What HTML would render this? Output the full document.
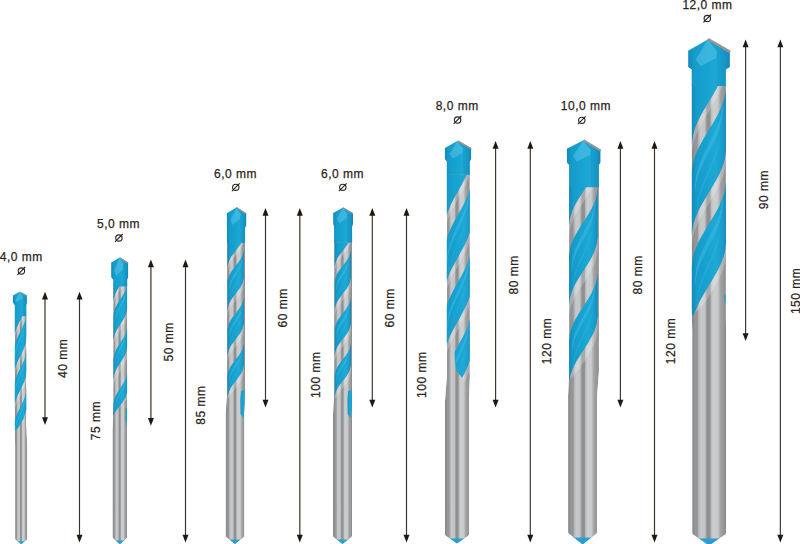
<!DOCTYPE html><html><head><meta charset="utf-8"><style>html,body{margin:0;padding:0;background:#fff;}svg{display:block;}text{font-family:"Liberation Sans",sans-serif;font-size:12px;fill:#2b2521;stroke:#2b2521;stroke-width:0.25px;letter-spacing:0.5px;}.phi{font-size:14px;letter-spacing:0;}</style></head><body>
<svg width="800" height="544" viewBox="0 0 800 544">
<defs>
<linearGradient id="steel" x1="0" y1="0" x2="1" y2="0"><stop offset="0" stop-color="#808284"/><stop offset="0.05" stop-color="#8c8e90"/><stop offset="0.12" stop-color="#96989a"/><stop offset="0.16" stop-color="#909294"/><stop offset="0.2" stop-color="#b3b4b6"/><stop offset="0.26" stop-color="#c7c8ca"/><stop offset="0.38" stop-color="#c4c5c7"/><stop offset="0.42" stop-color="#a3a4a6"/><stop offset="0.46" stop-color="#8e8f91"/><stop offset="0.53" stop-color="#909193"/><stop offset="0.57" stop-color="#b9babc"/><stop offset="0.62" stop-color="#cccdcf"/><stop offset="0.75" stop-color="#cacbcd"/><stop offset="0.8" stop-color="#b5b6b8"/><stop offset="0.85" stop-color="#9fa0a2"/><stop offset="0.93" stop-color="#97989a"/><stop offset="1" stop-color="#87888a"/></linearGradient>
<linearGradient id="steelF" x1="0" y1="0" x2="1" y2="0"><stop offset="0" stop-color="#808284"/><stop offset="0.05" stop-color="#8c8e90"/><stop offset="0.12" stop-color="#96989a"/><stop offset="0.16" stop-color="#909294"/><stop offset="0.2" stop-color="#b3b4b6"/><stop offset="0.26" stop-color="#c7c8ca"/><stop offset="0.38" stop-color="#c4c5c7"/><stop offset="0.42" stop-color="#a3a4a6"/><stop offset="0.46" stop-color="#8e8f91"/><stop offset="0.53" stop-color="#909193"/><stop offset="0.57" stop-color="#b9babc"/><stop offset="0.62" stop-color="#cccdcf"/><stop offset="0.75" stop-color="#cacbcd"/><stop offset="0.8" stop-color="#b5b6b8"/><stop offset="0.85" stop-color="#9fa0a2"/><stop offset="0.93" stop-color="#97989a"/><stop offset="1" stop-color="#87888a"/></linearGradient>
<linearGradient id="blueG" x1="0" y1="0" x2="1" y2="0"><stop offset="0" stop-color="#1289b8"/><stop offset="0.15" stop-color="#169cc9"/><stop offset="0.45" stop-color="#17a3d0"/><stop offset="0.7" stop-color="#1ea9d5"/><stop offset="0.9" stop-color="#179ccb"/><stop offset="1" stop-color="#118bbb"/></linearGradient>
<linearGradient id="tipG" x1="0" y1="0" x2="1" y2="0"><stop offset="0" stop-color="#1289b8"/><stop offset="0.15" stop-color="#169cc9"/><stop offset="0.45" stop-color="#17a3d0"/><stop offset="0.7" stop-color="#1ea9d5"/><stop offset="0.9" stop-color="#179ccb"/><stop offset="1" stop-color="#118bbb"/></linearGradient>
</defs>
<rect width="800" height="544" fill="#fff"/>
<clipPath id="body0"><polygon points="14.8,314 26.3,314 26.3,423 27.3,447 27.3,538.5 26.7,539.7 21.5,543.9 20.9,543.9 15.7,539.7 15.1,538.5 15.1,447 14.8,423"/></clipPath>
<clipPath id="fl0"><polygon points="11.8,316 29.3,316 29.3,410 26.3,410 23.43,419 20.55,424 17.68,428.5 14.8,431 11.8,431"/></clipPath>
<g clip-path="url(#body0)">
<polygon points="14.8,313 26.3,313 26.3,423 27.3,447 27.3,544.9 15.1,544.9 15.1,447 14.8,423" fill="url(#steel)"/>
<g clip-path="url(#fl0)">
<polygon points="27.06,299.9 26.62,301.36 26.5,302.81 26.3,304.27 26.02,305.73 25.67,307.19 25.25,308.64 24.76,310.1 24.22,311.56 23.63,313.01 23,314.47 22.33,315.93 21.63,317.39 20.91,318.84 20.19,320.3 19.47,321.76 18.75,323.21 18.05,324.67 17.38,326.13 16.75,327.59 16.16,329.04 15.62,330.5 15.13,331.96 14.71,333.41 14.36,334.87 14.08,336.33 13.88,337.79 13.76,339.24 13.32,340.7 13.32,344.76 13.76,343.3 13.88,341.85 14.08,340.39 14.36,338.93 14.71,337.47 15.13,336.02 15.62,334.56 16.16,333.1 16.75,331.65 17.38,330.19 18.05,328.73 18.75,327.27 19.47,325.82 20.19,324.36 20.91,322.9 21.63,321.45 22.33,319.99 23,318.53 23.63,317.07 24.22,315.62 24.76,314.16 25.25,312.7 25.67,311.25 26.02,309.79 26.3,308.33 26.5,306.87 26.62,305.42 27.06,303.96" fill="#ffffff" opacity="0.22"/>
<polygon points="27.06,336 26.62,337.46 26.5,338.91 26.3,340.37 26.02,341.83 25.67,343.29 25.25,344.74 24.76,346.2 24.22,347.66 23.63,349.11 23,350.57 22.33,352.03 21.63,353.49 20.91,354.94 20.19,356.4 19.47,357.86 18.75,359.31 18.05,360.77 17.38,362.23 16.75,363.69 16.16,365.14 15.62,366.6 15.13,368.06 14.71,369.51 14.36,370.97 14.08,372.43 13.88,373.89 13.76,375.34 13.32,376.8 13.32,381.07 13.76,379.61 13.88,378.16 14.08,376.7 14.36,375.24 14.71,373.78 15.13,372.33 15.62,370.87 16.16,369.41 16.75,367.96 17.38,366.5 18.05,365.04 18.75,363.58 19.47,362.13 20.19,360.67 20.91,359.21 21.63,357.76 22.33,356.3 23,354.84 23.63,353.38 24.22,351.93 24.76,350.47 25.25,349.01 25.67,347.56 26.02,346.1 26.3,344.64 26.5,343.18 26.62,341.73 27.06,340.27" fill="#ffffff" opacity="0.22"/>
<polygon points="27.06,369.8 26.62,371.26 26.5,372.71 26.3,374.17 26.02,375.63 25.67,377.09 25.25,378.54 24.76,380 24.22,381.46 23.63,382.91 23,384.37 22.33,385.83 21.63,387.29 20.91,388.74 20.19,390.2 19.47,391.66 18.75,393.11 18.05,394.57 17.38,396.03 16.75,397.49 16.16,398.94 15.62,400.4 15.13,401.86 14.71,403.31 14.36,404.77 14.08,406.23 13.88,407.69 13.76,409.14 13.32,410.6 13.32,416.65 13.76,415.2 13.88,413.74 14.08,412.28 14.36,410.83 14.71,409.37 15.13,407.91 15.62,406.45 16.16,405 16.75,403.54 17.38,402.08 18.05,400.63 18.75,399.17 19.47,397.71 20.19,396.25 20.91,394.8 21.63,393.34 22.33,391.88 23,390.43 23.63,388.97 24.22,387.51 24.76,386.06 25.25,384.6 25.67,383.14 26.02,381.68 26.3,380.23 26.5,378.77 26.62,377.31 27.06,375.86" fill="#ffffff" opacity="0.22"/>
<polygon points="27.06,410.1 26.62,411.56 26.5,413.01 26.3,414.47 26.02,415.93 25.67,417.39 25.25,418.84 24.76,420.3 24.22,421.76 23.63,423.21 23,424.67 22.33,426.13 21.63,427.59 20.91,429.04 20.19,430.5 19.47,431.96 18.75,433.41 18.05,434.87 17.38,436.33 16.75,437.79 16.16,439.24 15.62,440.7 15.13,442.16 14.71,443.61 14.36,445.07 14.08,446.53 13.88,447.99 13.76,449.44 13.32,450.9 13.32,456.95 13.76,455.5 13.88,454.04 14.08,452.58 14.36,451.13 14.71,449.67 15.13,448.21 15.62,446.75 16.16,445.3 16.75,443.84 17.38,442.38 18.05,440.93 18.75,439.47 19.47,438.01 20.19,436.56 20.91,435.1 21.63,433.64 22.33,432.18 23,430.73 23.63,429.27 24.22,427.81 24.76,426.36 25.25,424.9 25.67,423.44 26.02,421.98 26.3,420.53 26.5,419.07 26.62,417.61 27.06,416.16" fill="#ffffff" opacity="0.22"/>
<polygon points="27.06,275.6 26.62,277.06 26.5,278.51 26.3,279.97 26.02,281.43 25.67,282.89 25.25,284.34 24.76,285.8 24.22,287.26 23.63,288.71 23,290.17 22.33,291.63 21.63,293.09 20.91,294.54 20.19,296 19.47,297.46 18.75,298.91 18.05,300.37 17.38,301.83 16.75,303.29 16.16,304.74 15.62,306.2 15.13,307.66 14.71,309.11 14.36,310.57 14.08,312.03 13.88,313.49 13.76,314.94 13.32,316.4 13.32,340.7 13.76,339.24 13.88,337.79 14.08,336.33 14.36,334.87 14.71,333.41 15.13,331.96 15.62,330.5 16.16,329.04 16.75,327.59 17.38,326.13 18.05,324.67 18.75,323.21 19.47,321.76 20.19,320.3 20.91,318.84 21.63,317.39 22.33,315.93 23,314.47 23.63,313.01 24.22,311.56 24.76,310.1 25.25,308.64 25.67,307.19 26.02,305.73 26.3,304.27 26.5,302.81 26.62,301.36 27.06,299.9" fill="url(#blueG)"/>
<polygon points="27.06,311.5 26.62,312.96 26.5,314.41 26.3,315.87 26.02,317.33 25.67,318.79 25.25,320.24 24.76,321.7 24.22,323.16 23.63,324.61 23,326.07 22.33,327.53 21.63,328.99 20.91,330.44 20.19,331.9 19.47,333.36 18.75,334.81 18.05,336.27 17.38,337.73 16.75,339.19 16.16,340.64 15.62,342.1 15.13,343.56 14.71,345.01 14.36,346.47 14.08,347.93 13.88,349.39 13.76,350.84 13.32,352.3 13.32,376.8 13.76,375.34 13.88,373.89 14.08,372.43 14.36,370.97 14.71,369.51 15.13,368.06 15.62,366.6 16.16,365.14 16.75,363.69 17.38,362.23 18.05,360.77 18.75,359.31 19.47,357.86 20.19,356.4 20.91,354.94 21.63,353.49 22.33,352.03 23,350.57 23.63,349.11 24.22,347.66 24.76,346.2 25.25,344.74 25.67,343.29 26.02,341.83 26.3,340.37 26.5,338.91 26.62,337.46 27.06,336" fill="url(#blueG)"/>
<polygon points="25.77,317.91 25.33,319.29 25.24,320.68 25.08,322.06 24.85,323.45 24.57,324.83 24.24,326.22 23.85,327.6 23.42,328.98 22.94,330.37 22.44,331.75 21.9,333.14 21.34,334.52 20.77,335.91 20.19,337.29 19.61,338.67 19.04,340.06 18.48,341.44 17.94,342.83 17.44,344.21 16.96,345.6 16.53,346.98 16.14,348.36 15.81,349.75 15.53,351.13 15.3,352.52 15.14,353.9 15.05,355.29 14.61,356.67 14.61,360.1 15.05,358.72 15.14,357.33 15.3,355.95 15.53,354.56 15.81,353.18 16.14,351.79 16.53,350.41 16.96,349.03 17.44,347.64 17.94,346.26 18.48,344.87 19.04,343.49 19.61,342.1 20.19,340.72 20.77,339.34 21.34,337.95 21.9,336.57 22.44,335.18 22.94,333.8 23.42,332.41 23.85,331.03 24.24,329.65 24.57,328.26 24.85,326.88 25.08,325.49 25.24,324.11 25.33,322.72 25.77,321.34" fill="#46bde8" opacity="0.45"/>
<polygon points="25.12,327.71 24.69,329.09 24.61,330.48 24.46,331.86 24.27,333.25 24.02,334.63 23.73,336.02 23.39,337.4 23.01,338.78 22.6,340.17 22.16,341.55 21.69,342.94 21.2,344.32 20.7,345.71 20.19,347.09 19.68,348.47 19.18,349.86 18.69,351.24 18.22,352.63 17.78,354.01 17.37,355.4 16.99,356.78 16.65,358.16 16.36,359.55 16.11,360.93 15.92,362.32 15.77,363.7 15.69,365.09 15.26,366.47 15.26,368.43 15.69,367.05 15.77,365.66 15.92,364.28 16.11,362.89 16.36,361.51 16.65,360.12 16.99,358.74 17.37,357.36 17.78,355.97 18.22,354.59 18.69,353.2 19.18,351.82 19.68,350.43 20.19,349.05 20.7,347.67 21.2,346.28 21.69,344.9 22.16,343.51 22.6,342.13 23.01,340.74 23.39,339.36 23.73,337.98 24.02,336.59 24.27,335.21 24.46,333.82 24.61,332.44 24.69,331.05 25.12,329.67" fill="#3ab5e2" opacity="0.35"/>
<polygon points="27.06,348.2 26.62,349.66 26.5,351.11 26.3,352.57 26.02,354.03 25.67,355.49 25.25,356.94 24.76,358.4 24.22,359.86 23.63,361.31 23,362.77 22.33,364.23 21.63,365.69 20.91,367.14 20.19,368.6 19.47,370.06 18.75,371.51 18.05,372.97 17.38,374.43 16.75,375.89 16.16,377.34 15.62,378.8 15.13,380.26 14.71,381.71 14.36,383.17 14.08,384.63 13.88,386.09 13.76,387.54 13.32,389 13.32,410.6 13.76,409.14 13.88,407.69 14.08,406.23 14.36,404.77 14.71,403.31 15.13,401.86 15.62,400.4 16.16,398.94 16.75,397.49 17.38,396.03 18.05,394.57 18.75,393.11 19.47,391.66 20.19,390.2 20.91,388.74 21.63,387.29 22.33,385.83 23,384.37 23.63,382.91 24.22,381.46 24.76,380 25.25,378.54 25.67,377.09 26.02,375.63 26.3,374.17 26.5,372.71 26.62,371.26 27.06,369.8" fill="url(#blueG)"/>
<polygon points="25.77,353.97 25.33,355.36 25.24,356.74 25.08,358.12 24.85,359.51 24.57,360.89 24.24,362.28 23.85,363.66 23.42,365.05 22.94,366.43 22.44,367.81 21.9,369.2 21.34,370.58 20.77,371.97 20.19,373.35 19.61,374.74 19.04,376.12 18.48,377.5 17.94,378.89 17.44,380.27 16.96,381.66 16.53,383.04 16.14,384.43 15.81,385.81 15.53,387.19 15.3,388.58 15.14,389.96 15.05,391.35 14.61,392.73 14.61,395.76 15.05,394.37 15.14,392.99 15.3,391.6 15.53,390.22 15.81,388.83 16.14,387.45 16.53,386.07 16.96,384.68 17.44,383.3 17.94,381.91 18.48,380.53 19.04,379.14 19.61,377.76 20.19,376.38 20.77,374.99 21.34,373.61 21.9,372.22 22.44,370.84 22.94,369.45 23.42,368.07 23.85,366.69 24.24,365.3 24.57,363.92 24.85,362.53 25.08,361.15 25.24,359.76 25.33,358.38 25.77,357" fill="#46bde8" opacity="0.45"/>
<polygon points="25.12,362.61 24.69,364 24.61,365.38 24.46,366.76 24.27,368.15 24.02,369.53 23.73,370.92 23.39,372.3 23.01,373.69 22.6,375.07 22.16,376.45 21.69,377.84 21.2,379.22 20.7,380.61 20.19,381.99 19.68,383.38 19.18,384.76 18.69,386.14 18.22,387.53 17.78,388.91 17.37,390.3 16.99,391.68 16.65,393.07 16.36,394.45 16.11,395.83 15.92,397.22 15.77,398.6 15.69,399.99 15.26,401.37 15.26,403.1 15.69,401.72 15.77,400.33 15.92,398.95 16.11,397.56 16.36,396.18 16.65,394.79 16.99,393.41 17.37,392.03 17.78,390.64 18.22,389.26 18.69,387.87 19.18,386.49 19.68,385.1 20.19,383.72 20.7,382.34 21.2,380.95 21.69,379.57 22.16,378.18 22.6,376.8 23.01,375.41 23.39,374.03 23.73,372.65 24.02,371.26 24.27,369.88 24.46,368.49 24.61,367.11 24.69,365.72 25.12,364.34" fill="#3ab5e2" opacity="0.35"/>
<polygon points="27.06,387.1 26.62,388.56 26.5,390.01 26.3,391.47 26.02,392.93 25.67,394.39 25.25,395.84 24.76,397.3 24.22,398.76 23.63,400.21 23,401.67 22.33,403.13 21.63,404.59 20.91,406.04 20.19,407.5 19.47,408.96 18.75,410.41 18.05,411.87 17.38,413.33 16.75,414.79 16.16,416.24 15.62,417.7 15.13,419.16 14.71,420.61 14.36,422.07 14.08,423.53 13.88,424.99 13.76,426.44 13.32,427.9 13.32,450.9 13.76,449.44 13.88,447.99 14.08,446.53 14.36,445.07 14.71,443.61 15.13,442.16 15.62,440.7 16.16,439.24 16.75,437.79 17.38,436.33 18.05,434.87 18.75,433.41 19.47,431.96 20.19,430.5 20.91,429.04 21.63,427.59 22.33,426.13 23,424.67 23.63,423.21 24.22,421.76 24.76,420.3 25.25,418.84 25.67,417.39 26.02,415.93 26.3,414.47 26.5,413.01 26.62,411.56 27.06,410.1" fill="url(#blueG)"/>
<polygon points="25.77,393.18 25.33,394.56 25.24,395.95 25.08,397.33 24.85,398.72 24.57,400.1 24.24,401.49 23.85,402.87 23.42,404.25 22.94,405.64 22.44,407.02 21.9,408.41 21.34,409.79 20.77,411.18 20.19,412.56 19.61,413.94 19.04,415.33 18.48,416.71 17.94,418.1 17.44,419.48 16.96,420.87 16.53,422.25 16.14,423.63 15.81,425.02 15.53,426.4 15.3,427.79 15.14,429.17 15.05,430.56 14.61,431.94 14.61,435.16 15.05,433.78 15.14,432.39 15.3,431.01 15.53,429.62 15.81,428.24 16.14,426.85 16.53,425.47 16.96,424.09 17.44,422.7 17.94,421.32 18.48,419.93 19.04,418.55 19.61,417.16 20.19,415.78 20.77,414.4 21.34,413.01 21.9,411.63 22.44,410.24 22.94,408.86 23.42,407.47 23.85,406.09 24.24,404.71 24.57,403.32 24.85,401.94 25.08,400.55 25.24,399.17 25.33,397.78 25.77,396.4" fill="#46bde8" opacity="0.45"/>
<polygon points="25.12,402.38 24.69,403.76 24.61,405.15 24.46,406.53 24.27,407.92 24.02,409.3 23.73,410.69 23.39,412.07 23.01,413.45 22.6,414.84 22.16,416.22 21.69,417.61 21.2,418.99 20.7,420.38 20.19,421.76 19.68,423.14 19.18,424.53 18.69,425.91 18.22,427.3 17.78,428.68 17.37,430.07 16.99,431.45 16.65,432.83 16.36,434.22 16.11,435.6 15.92,436.99 15.77,438.37 15.69,439.76 15.26,441.14 15.26,442.98 15.69,441.6 15.77,440.21 15.92,438.83 16.11,437.44 16.36,436.06 16.65,434.67 16.99,433.29 17.37,431.91 17.78,430.52 18.22,429.14 18.69,427.75 19.18,426.37 19.68,424.98 20.19,423.6 20.7,422.22 21.2,420.83 21.69,419.45 22.16,418.06 22.6,416.68 23.01,415.29 23.39,413.91 23.73,412.53 24.02,411.14 24.27,409.76 24.46,408.37 24.61,406.99 24.69,405.6 25.12,404.22" fill="#3ab5e2" opacity="0.35"/>
</g>
<rect x="15.1" y="541.3" width="12.2" height="3.6" fill="#2a9fd2"/>
</g>
<polygon points="19.7,291.7 26.9,295.3 26.9,302.7 26.3,305.2 26.3,316.3 14.8,316.3 14.8,305.2 13,302.7 13,295.6" fill="url(#tipG)"/>
<polygon points="19.7,291.7 26.9,295.3 26.9,302.7 26.3,305.2 26.3,316 22.48,316 22.48,296.31" fill="#0b6f99" opacity="0.12"/>
<polygon points="19.42,292.3 22.48,295.96 22.2,298.8 17.17,302.34 15.5,299.5" fill="#5cc8ee" opacity="0.5"/>
<line x1="20" y1="292.3" x2="26.5" y2="295.8" stroke="#9a9592" stroke-width="1.2" stroke-linecap="round"/>
<clipPath id="body1"><polygon points="113.2,284.1 127.2,284.1 127.2,407 127.1,431 127.1,537.1 126.5,538.3 120.1,543.9 119.5,543.9 113.1,538.3 112.5,537.1 112.5,431 113.2,407"/></clipPath>
<clipPath id="fl1"><polygon points="110.2,286.1 130.2,286.1 130.2,400 127.2,400 123.7,402 120.2,405 116.7,410 113.2,415 110.2,415"/></clipPath>
<g clip-path="url(#body1)">
<polygon points="113.2,283.1 127.2,283.1 127.2,407 127.1,431 127.1,544.9 112.5,544.9 112.5,431 113.2,407" fill="url(#steel)"/>
<g clip-path="url(#fl1)">
<polygon points="127.39,268.95 126.95,270.09 126.82,271.23 126.62,272.37 126.33,273.51 125.97,274.65 125.54,275.79 125.05,276.92 124.49,278.06 123.89,279.2 123.24,280.34 122.55,281.48 121.84,282.62 121.1,283.76 120.36,284.9 119.62,286.04 118.88,287.18 118.17,288.32 117.48,289.46 116.83,290.6 116.23,291.74 115.67,292.88 115.18,294.01 114.75,295.15 114.39,296.29 114.1,297.43 113.9,298.57 113.77,299.71 113.33,300.85 113.33,305.82 113.77,304.68 113.9,303.54 114.1,302.4 114.39,301.26 114.75,300.12 115.18,298.98 115.67,297.85 116.23,296.71 116.83,295.57 117.48,294.43 118.17,293.29 118.88,292.15 119.62,291.01 120.36,289.87 121.1,288.73 121.84,287.59 122.55,286.45 123.24,285.31 123.89,284.17 124.49,283.03 125.05,281.89 125.54,280.76 125.97,279.62 126.33,278.48 126.62,277.34 126.82,276.2 126.95,275.06 127.39,273.92" fill="#ffffff" opacity="0.22"/>
<polygon points="127.39,308.15 126.95,309.29 126.82,310.43 126.62,311.57 126.33,312.71 125.97,313.85 125.54,314.99 125.05,316.12 124.49,317.26 123.89,318.4 123.24,319.54 122.55,320.68 121.84,321.82 121.1,322.96 120.36,324.1 119.62,325.24 118.88,326.38 118.17,327.52 117.48,328.66 116.83,329.8 116.23,330.94 115.67,332.08 115.18,333.21 114.75,334.35 114.39,335.49 114.1,336.63 113.9,337.77 113.77,338.91 113.33,340.05 113.33,346.56 113.77,345.42 113.9,344.28 114.1,343.14 114.39,342 114.75,340.86 115.18,339.72 115.67,338.59 116.23,337.45 116.83,336.31 117.48,335.17 118.17,334.03 118.88,332.89 119.62,331.75 120.36,330.61 121.1,329.47 121.84,328.33 122.55,327.19 123.24,326.05 123.89,324.91 124.49,323.77 125.05,322.63 125.54,321.5 125.97,320.36 126.33,319.22 126.62,318.08 126.82,316.94 126.95,315.8 127.39,314.66" fill="#ffffff" opacity="0.22"/>
<polygon points="127.39,346.75 126.95,347.89 126.82,349.03 126.62,350.17 126.33,351.31 125.97,352.45 125.54,353.59 125.05,354.72 124.49,355.86 123.89,357 123.24,358.14 122.55,359.28 121.84,360.42 121.1,361.56 120.36,362.7 119.62,363.84 118.88,364.98 118.17,366.12 117.48,367.26 116.83,368.4 116.23,369.54 115.67,370.68 115.18,371.81 114.75,372.95 114.39,374.09 114.1,375.23 113.9,376.37 113.77,377.51 113.33,378.65 113.33,387.5 113.77,386.37 113.9,385.23 114.1,384.09 114.39,382.95 114.75,381.81 115.18,380.67 115.67,379.53 116.23,378.39 116.83,377.25 117.48,376.11 118.17,374.97 118.88,373.83 119.62,372.69 120.36,371.56 121.1,370.42 121.84,369.28 122.55,368.14 123.24,367 123.89,365.86 124.49,364.72 125.05,363.58 125.54,362.44 125.97,361.3 126.33,360.16 126.62,359.02 126.82,357.88 126.95,356.74 127.39,355.61" fill="#ffffff" opacity="0.22"/>
<polygon points="127.39,390.05 126.95,391.19 126.82,392.33 126.62,393.47 126.33,394.61 125.97,395.75 125.54,396.89 125.05,398.02 124.49,399.16 123.89,400.3 123.24,401.44 122.55,402.58 121.84,403.72 121.1,404.86 120.36,406 119.62,407.14 118.88,408.28 118.17,409.42 117.48,410.56 116.83,411.7 116.23,412.84 115.67,413.98 115.18,415.11 114.75,416.25 114.39,417.39 114.1,418.53 113.9,419.67 113.77,420.81 113.33,421.95 113.33,430.81 113.77,429.67 113.9,428.53 114.1,427.39 114.39,426.25 114.75,425.11 115.18,423.97 115.67,422.83 116.23,421.69 116.83,420.55 117.48,419.41 118.17,418.27 118.88,417.13 119.62,415.99 120.36,414.86 121.1,413.72 121.84,412.58 122.55,411.44 123.24,410.3 123.89,409.16 124.49,408.02 125.05,406.88 125.54,405.74 125.97,404.6 126.33,403.46 126.62,402.32 126.82,401.18 126.95,400.04 127.39,398.91" fill="#ffffff" opacity="0.22"/>
<polygon points="127.39,241.05 126.95,242.19 126.82,243.33 126.62,244.47 126.33,245.61 125.97,246.75 125.54,247.89 125.05,249.03 124.49,250.16 123.89,251.3 123.24,252.44 122.55,253.58 121.84,254.72 121.1,255.86 120.36,257 119.62,258.14 118.88,259.28 118.17,260.42 117.48,261.56 116.83,262.7 116.23,263.84 115.67,264.98 115.18,266.11 114.75,267.25 114.39,268.39 114.1,269.53 113.9,270.67 113.77,271.81 113.33,272.95 113.33,300.85 113.77,299.71 113.9,298.57 114.1,297.43 114.39,296.29 114.75,295.15 115.18,294.01 115.67,292.88 116.23,291.74 116.83,290.6 117.48,289.46 118.17,288.32 118.88,287.18 119.62,286.04 120.36,284.9 121.1,283.76 121.84,282.62 122.55,281.48 123.24,280.34 123.89,279.2 124.49,278.06 125.05,276.92 125.54,275.79 125.97,274.65 126.33,273.51 126.62,272.37 126.82,271.23 126.95,270.09 127.39,268.95" fill="url(#blueG)"/>
<polygon points="127.39,283.15 126.95,284.29 126.82,285.43 126.62,286.57 126.33,287.71 125.97,288.85 125.54,289.99 125.05,291.12 124.49,292.26 123.89,293.4 123.24,294.54 122.55,295.68 121.84,296.82 121.1,297.96 120.36,299.1 119.62,300.24 118.88,301.38 118.17,302.52 117.48,303.66 116.83,304.8 116.23,305.94 115.67,307.08 115.18,308.21 114.75,309.35 114.39,310.49 114.1,311.63 113.9,312.77 113.77,313.91 113.33,315.05 113.33,340.05 113.77,338.91 113.9,337.77 114.1,336.63 114.39,335.49 114.75,334.35 115.18,333.21 115.67,332.08 116.23,330.94 116.83,329.8 117.48,328.66 118.17,327.52 118.88,326.38 119.62,325.24 120.36,324.1 121.1,322.96 121.84,321.82 122.55,320.68 123.24,319.54 123.89,318.4 124.49,317.26 125.05,316.12 125.54,314.99 125.97,313.85 126.33,312.71 126.62,311.57 126.82,310.43 126.95,309.29 127.39,308.15" fill="url(#blueG)"/>
<polygon points="126.06,289.45 125.63,290.53 125.53,291.61 125.37,292.69 125.14,293.78 124.85,294.86 124.51,295.94 124.11,297.02 123.67,298.11 123.18,299.19 122.66,300.27 122.11,301.35 121.54,302.44 120.95,303.52 120.36,304.6 119.77,305.68 119.18,306.76 118.61,307.85 118.06,308.93 117.54,310.01 117.05,311.09 116.61,312.18 116.21,313.26 115.87,314.34 115.58,315.42 115.35,316.51 115.19,317.59 115.09,318.67 114.66,319.75 114.66,323.25 115.09,322.17 115.19,321.09 115.35,320.01 115.58,318.92 115.87,317.84 116.21,316.76 116.61,315.68 117.05,314.59 117.54,313.51 118.06,312.43 118.61,311.35 119.18,310.26 119.77,309.18 120.36,308.1 120.95,307.02 121.54,305.94 122.11,304.85 122.66,303.77 123.18,302.69 123.67,301.61 124.11,300.52 124.51,299.44 124.85,298.36 125.14,297.28 125.37,296.19 125.53,295.11 125.63,294.03 126.06,292.95" fill="#46bde8" opacity="0.45"/>
<polygon points="125.4,299.45 124.97,300.53 124.88,301.61 124.74,302.69 124.54,303.78 124.29,304.86 123.99,305.94 123.64,307.02 123.25,308.11 122.83,309.19 122.37,310.27 121.89,311.35 121.39,312.44 120.88,313.52 120.36,314.6 119.84,315.68 119.33,316.76 118.83,317.85 118.35,318.93 117.89,320.01 117.47,321.09 117.08,322.18 116.73,323.26 116.43,324.34 116.18,325.42 115.98,326.51 115.84,327.59 115.75,328.67 115.32,329.75 115.32,331.75 115.75,330.67 115.84,329.59 115.98,328.51 116.18,327.42 116.43,326.34 116.73,325.26 117.08,324.18 117.47,323.09 117.89,322.01 118.35,320.93 118.83,319.85 119.33,318.76 119.84,317.68 120.36,316.6 120.88,315.52 121.39,314.44 121.89,313.35 122.37,312.27 122.83,311.19 123.25,310.11 123.64,309.02 123.99,307.94 124.29,306.86 124.54,305.78 124.74,304.69 124.88,303.61 124.97,302.53 125.4,301.45" fill="#3ab5e2" opacity="0.35"/>
<polygon points="127.39,326.75 126.95,327.89 126.82,329.03 126.62,330.17 126.33,331.31 125.97,332.45 125.54,333.59 125.05,334.72 124.49,335.86 123.89,337 123.24,338.14 122.55,339.28 121.84,340.42 121.1,341.56 120.36,342.7 119.62,343.84 118.88,344.98 118.17,346.12 117.48,347.26 116.83,348.4 116.23,349.54 115.67,350.68 115.18,351.81 114.75,352.95 114.39,354.09 114.1,355.23 113.9,356.37 113.77,357.51 113.33,358.65 113.33,378.65 113.77,377.51 113.9,376.37 114.1,375.23 114.39,374.09 114.75,372.95 115.18,371.81 115.67,370.68 116.23,369.54 116.83,368.4 117.48,367.26 118.17,366.12 118.88,364.98 119.62,363.84 120.36,362.7 121.1,361.56 121.84,360.42 122.55,359.28 123.24,358.14 123.89,357 124.49,355.86 125.05,354.72 125.54,353.59 125.97,352.45 126.33,351.31 126.62,350.17 126.82,349.03 126.95,347.89 127.39,346.75" fill="url(#blueG)"/>
<polygon points="126.06,331.95 125.63,333.03 125.53,334.11 125.37,335.19 125.14,336.28 124.85,337.36 124.51,338.44 124.11,339.52 123.67,340.61 123.18,341.69 122.66,342.77 122.11,343.85 121.54,344.94 120.95,346.02 120.36,347.1 119.77,348.18 119.18,349.26 118.61,350.35 118.06,351.43 117.54,352.51 117.05,353.59 116.61,354.68 116.21,355.76 115.87,356.84 115.58,357.92 115.35,359.01 115.19,360.09 115.09,361.17 114.66,362.25 114.66,365.05 115.09,363.97 115.19,362.89 115.35,361.81 115.58,360.72 115.87,359.64 116.21,358.56 116.61,357.48 117.05,356.39 117.54,355.31 118.06,354.23 118.61,353.15 119.18,352.06 119.77,350.98 120.36,349.9 120.95,348.82 121.54,347.74 122.11,346.65 122.66,345.57 123.18,344.49 123.67,343.41 124.11,342.32 124.51,341.24 124.85,340.16 125.14,339.08 125.37,337.99 125.53,336.91 125.63,335.83 126.06,334.75" fill="#46bde8" opacity="0.45"/>
<polygon points="125.4,339.95 124.97,341.03 124.88,342.11 124.74,343.19 124.54,344.28 124.29,345.36 123.99,346.44 123.64,347.52 123.25,348.61 122.83,349.69 122.37,350.77 121.89,351.85 121.39,352.94 120.88,354.02 120.36,355.1 119.84,356.18 119.33,357.26 118.83,358.35 118.35,359.43 117.89,360.51 117.47,361.59 117.08,362.68 116.73,363.76 116.43,364.84 116.18,365.92 115.98,367.01 115.84,368.09 115.75,369.17 115.32,370.25 115.32,371.85 115.75,370.77 115.84,369.69 115.98,368.61 116.18,367.52 116.43,366.44 116.73,365.36 117.08,364.28 117.47,363.19 117.89,362.11 118.35,361.03 118.83,359.95 119.33,358.86 119.84,357.78 120.36,356.7 120.88,355.62 121.39,354.54 121.89,353.45 122.37,352.37 122.83,351.29 123.25,350.21 123.64,349.12 123.99,348.04 124.29,346.96 124.54,345.88 124.74,344.79 124.88,343.71 124.97,342.63 125.4,341.55" fill="#3ab5e2" opacity="0.35"/>
<polygon points="127.39,372.05 126.95,373.19 126.82,374.33 126.62,375.47 126.33,376.61 125.97,377.75 125.54,378.89 125.05,380.02 124.49,381.16 123.89,382.3 123.24,383.44 122.55,384.58 121.84,385.72 121.1,386.86 120.36,388 119.62,389.14 118.88,390.28 118.17,391.42 117.48,392.56 116.83,393.7 116.23,394.84 115.67,395.98 115.18,397.11 114.75,398.25 114.39,399.39 114.1,400.53 113.9,401.67 113.77,402.81 113.33,403.95 113.33,421.95 113.77,420.81 113.9,419.67 114.1,418.53 114.39,417.39 114.75,416.25 115.18,415.11 115.67,413.98 116.23,412.84 116.83,411.7 117.48,410.56 118.17,409.42 118.88,408.28 119.62,407.14 120.36,406 121.1,404.86 121.84,403.72 122.55,402.58 123.24,401.44 123.89,400.3 124.49,399.16 125.05,398.02 125.54,396.89 125.97,395.75 126.33,394.61 126.62,393.47 126.82,392.33 126.95,391.19 127.39,390.05" fill="url(#blueG)"/>
<polygon points="126.06,376.81 125.63,377.89 125.53,378.97 125.37,380.05 125.14,381.14 124.85,382.22 124.51,383.3 124.11,384.38 123.67,385.47 123.18,386.55 122.66,387.63 122.11,388.71 121.54,389.8 120.95,390.88 120.36,391.96 119.77,393.04 119.18,394.12 118.61,395.21 118.06,396.29 117.54,397.37 117.05,398.45 116.61,399.54 116.21,400.62 115.87,401.7 115.58,402.78 115.35,403.87 115.19,404.95 115.09,406.03 114.66,407.11 114.66,409.63 115.09,408.55 115.19,407.47 115.35,406.39 115.58,405.3 115.87,404.22 116.21,403.14 116.61,402.06 117.05,400.97 117.54,399.89 118.06,398.81 118.61,397.73 119.18,396.64 119.77,395.56 120.36,394.48 120.95,393.4 121.54,392.32 122.11,391.23 122.66,390.15 123.18,389.07 123.67,387.99 124.11,386.9 124.51,385.82 124.85,384.74 125.14,383.66 125.37,382.57 125.53,381.49 125.63,380.41 126.06,379.33" fill="#46bde8" opacity="0.45"/>
<polygon points="125.4,384.01 124.97,385.09 124.88,386.17 124.74,387.25 124.54,388.34 124.29,389.42 123.99,390.5 123.64,391.58 123.25,392.67 122.83,393.75 122.37,394.83 121.89,395.91 121.39,397 120.88,398.08 120.36,399.16 119.84,400.24 119.33,401.32 118.83,402.41 118.35,403.49 117.89,404.57 117.47,405.65 117.08,406.74 116.73,407.82 116.43,408.9 116.18,409.98 115.98,411.07 115.84,412.15 115.75,413.23 115.32,414.31 115.32,415.75 115.75,414.67 115.84,413.59 115.98,412.51 116.18,411.42 116.43,410.34 116.73,409.26 117.08,408.18 117.47,407.09 117.89,406.01 118.35,404.93 118.83,403.85 119.33,402.76 119.84,401.68 120.36,400.6 120.88,399.52 121.39,398.44 121.89,397.35 122.37,396.27 122.83,395.19 123.25,394.11 123.64,393.02 123.99,391.94 124.29,390.86 124.54,389.78 124.74,388.69 124.88,387.61 124.97,386.53 125.4,385.45" fill="#3ab5e2" opacity="0.35"/>
</g>
<polygon points="125.6,408 127.4,408.5 127.4,420 126.6,426.5 125.6,421" fill="url(#blueG)"/>
<rect x="112.5" y="540.43" width="14.6" height="4.47" fill="#2a9fd2"/>
</g>
<polygon points="119.8,257.4 128.1,262.4 128.1,277.3 127.2,279.8 127.2,286.4 113.2,286.4 113.2,279.8 111.2,277.3 111.2,262.4" fill="url(#tipG)"/>
<polygon points="119.8,257.4 128.1,262.4 128.1,277.3 127.2,279.8 127.2,286.1 123.18,286.1 123.18,263.89" fill="#0b6f99" opacity="0.12"/>
<polygon points="119.46,258 123.18,263.14 122.84,269.11 116.27,276.56 114.24,270.59" fill="#5cc8ee" opacity="0.5"/>
<line x1="120.1" y1="258" x2="127.7" y2="262.9" stroke="#9a9592" stroke-width="1.2" stroke-linecap="round"/>
<clipPath id="body2"><polygon points="227,240.6 245,240.6 245,391 244.4,415 244.4,535.8 243.8,537 235.3,543.8 234.7,543.8 226.2,537 225.6,535.8 225.6,415 227,391"/></clipPath>
<clipPath id="fl2"><polygon points="224,242.6 248,242.6 248,380 245,380 236,392 231.5,396 227,399 224,399"/></clipPath>
<g clip-path="url(#body2)">
<polygon points="227,239.6 245,239.6 245,391 244.4,415 244.4,544.8 225.6,544.8 225.6,415 227,391" fill="url(#steel)"/>
<g clip-path="url(#fl2)">
<polygon points="243.83,235.15 243.38,236.26 243.24,237.37 243,238.48 242.66,239.59 242.24,240.7 241.74,241.81 241.16,242.92 240.51,244.04 239.8,245.15 239.04,246.26 238.24,247.37 237.4,248.48 236.55,249.59 235.68,250.7 234.81,251.81 233.96,252.92 233.12,254.03 232.32,255.14 231.56,256.25 230.85,257.36 230.2,258.47 229.62,259.59 229.12,260.7 228.7,261.81 228.36,262.92 228.12,264.03 227.98,265.14 227.53,266.25 227.53,271.53 227.98,270.42 228.12,269.31 228.36,268.2 228.7,267.09 229.12,265.98 229.62,264.87 230.2,263.76 230.85,262.65 231.56,261.54 232.32,260.43 233.12,259.32 233.96,258.21 234.81,257.1 235.68,255.98 236.55,254.87 237.4,253.76 238.24,252.65 239.04,251.54 239.8,250.43 240.51,249.32 241.16,248.21 241.74,247.1 242.24,245.99 242.66,244.88 243,243.77 243.24,242.66 243.38,241.55 243.83,240.43" fill="#ffffff" opacity="0.22"/>
<polygon points="243.83,278.15 243.38,279.26 243.24,280.37 243,281.48 242.66,282.59 242.24,283.7 241.74,284.81 241.16,285.93 240.51,287.04 239.8,288.15 239.04,289.26 238.24,290.37 237.4,291.48 236.55,292.59 235.68,293.7 234.81,294.81 233.96,295.92 233.12,297.03 232.32,298.14 231.56,299.25 230.85,300.36 230.2,301.47 229.62,302.59 229.12,303.7 228.7,304.81 228.36,305.92 228.12,307.03 227.98,308.14 227.53,309.25 227.53,316.11 227.98,315 228.12,313.89 228.36,312.78 228.7,311.67 229.12,310.56 229.62,309.45 230.2,308.33 230.85,307.22 231.56,306.11 232.32,305 233.12,303.89 233.96,302.78 234.81,301.67 235.68,300.56 236.55,299.45 237.4,298.34 238.24,297.23 239.04,296.12 239.8,295.01 240.51,293.9 241.16,292.79 241.74,291.67 242.24,290.56 242.66,289.45 243,288.34 243.24,287.23 243.38,286.12 243.83,285.01" fill="#ffffff" opacity="0.22"/>
<polygon points="243.83,323.65 243.38,324.76 243.24,325.87 243,326.98 242.66,328.09 242.24,329.2 241.74,330.31 241.16,331.43 240.51,332.54 239.8,333.65 239.04,334.76 238.24,335.87 237.4,336.98 236.55,338.09 235.68,339.2 234.81,340.31 233.96,341.42 233.12,342.53 232.32,343.64 231.56,344.75 230.85,345.86 230.2,346.97 229.62,348.09 229.12,349.2 228.7,350.31 228.36,351.42 228.12,352.53 227.98,353.64 227.53,354.75 227.53,361.86 227.98,360.74 228.12,359.63 228.36,358.52 228.7,357.41 229.12,356.3 229.62,355.19 230.2,354.08 230.85,352.97 231.56,351.86 232.32,350.75 233.12,349.64 233.96,348.53 234.81,347.42 235.68,346.31 236.55,345.19 237.4,344.08 238.24,342.97 239.04,341.86 239.8,340.75 240.51,339.64 241.16,338.53 241.74,337.42 242.24,336.31 242.66,335.2 243,334.09 243.24,332.98 243.38,331.87 243.83,330.75" fill="#ffffff" opacity="0.22"/>
<polygon points="243.83,365.45 243.38,366.56 243.24,367.67 243,368.78 242.66,369.89 242.24,371 241.74,372.11 241.16,373.23 240.51,374.34 239.8,375.45 239.04,376.56 238.24,377.67 237.4,378.78 236.55,379.89 235.68,381 234.81,382.11 233.96,383.22 233.12,384.33 232.32,385.44 231.56,386.55 230.85,387.66 230.2,388.77 229.62,389.89 229.12,391 228.7,392.11 228.36,393.22 228.12,394.33 227.98,395.44 227.53,396.55 227.53,403.66 227.98,402.54 228.12,401.43 228.36,400.32 228.7,399.21 229.12,398.1 229.62,396.99 230.2,395.88 230.85,394.77 231.56,393.66 232.32,392.55 233.12,391.44 233.96,390.33 234.81,389.22 235.68,388.11 236.55,386.99 237.4,385.88 238.24,384.77 239.04,383.66 239.8,382.55 240.51,381.44 241.16,380.33 241.74,379.22 242.24,378.11 242.66,377 243,375.89 243.24,374.78 243.38,373.67 243.83,372.56" fill="#ffffff" opacity="0.22"/>
<polygon points="243.83,206.45 243.38,207.56 243.24,208.67 243,209.78 242.66,210.89 242.24,212 241.74,213.11 241.16,214.22 240.51,215.34 239.8,216.45 239.04,217.56 238.24,218.67 237.4,219.78 236.55,220.89 235.68,222 234.81,223.11 233.96,224.22 233.12,225.33 232.32,226.44 231.56,227.55 230.85,228.66 230.2,229.78 229.62,230.89 229.12,232 228.7,233.11 228.36,234.22 228.12,235.33 227.98,236.44 227.53,237.55 227.53,266.25 227.98,265.14 228.12,264.03 228.36,262.92 228.7,261.81 229.12,260.7 229.62,259.59 230.2,258.47 230.85,257.36 231.56,256.25 232.32,255.14 233.12,254.03 233.96,252.92 234.81,251.81 235.68,250.7 236.55,249.59 237.4,248.48 238.24,247.37 239.04,246.26 239.8,245.15 240.51,244.04 241.16,242.92 241.74,241.81 242.24,240.7 242.66,239.59 243,238.48 243.24,237.37 243.38,236.26 243.83,235.15" fill="url(#blueG)"/>
<polygon points="243.83,250.25 243.38,251.36 243.24,252.47 243,253.58 242.66,254.69 242.24,255.8 241.74,256.91 241.16,258.03 240.51,259.14 239.8,260.25 239.04,261.36 238.24,262.47 237.4,263.58 236.55,264.69 235.68,265.8 234.81,266.91 233.96,268.02 233.12,269.13 232.32,270.24 231.56,271.35 230.85,272.46 230.2,273.57 229.62,274.69 229.12,275.8 228.7,276.91 228.36,278.02 228.12,279.13 227.98,280.24 227.53,281.35 227.53,309.25 227.98,308.14 228.12,307.03 228.36,305.92 228.7,304.81 229.12,303.7 229.62,302.59 230.2,301.47 230.85,300.36 231.56,299.25 232.32,298.14 233.12,297.03 233.96,295.92 234.81,294.81 235.68,293.7 236.55,292.59 237.4,291.48 238.24,290.37 239.04,289.26 239.8,288.15 240.51,287.04 241.16,285.93 241.74,284.81 242.24,283.7 242.66,282.59 243,281.48 243.24,280.37 243.38,279.26 243.83,278.15" fill="url(#blueG)"/>
<polygon points="242.28,257.17 241.84,258.22 241.72,259.28 241.53,260.33 241.27,261.39 240.93,262.44 240.53,263.5 240.06,264.55 239.55,265.61 238.98,266.66 238.37,267.72 237.73,268.77 237.06,269.83 236.37,270.88 235.68,271.94 234.99,272.99 234.3,274.05 233.63,275.1 232.99,276.16 232.38,277.21 231.81,278.27 231.3,279.32 230.83,280.38 230.43,281.43 230.09,282.49 229.83,283.54 229.64,284.6 229.52,285.66 229.08,286.71 229.08,290.62 229.52,289.56 229.64,288.51 229.83,287.45 230.09,286.4 230.43,285.34 230.83,284.29 231.3,283.23 231.81,282.18 232.38,281.12 232.99,280.06 233.63,279.01 234.3,277.95 234.99,276.9 235.68,275.84 236.37,274.79 237.06,273.73 237.73,272.68 238.37,271.62 238.98,270.57 239.55,269.51 240.06,268.46 240.53,267.4 240.93,266.35 241.27,265.29 241.53,264.24 241.72,263.18 241.84,262.13 242.28,261.07" fill="#46bde8" opacity="0.45"/>
<polygon points="241.5,268.33 241.07,269.38 240.97,270.44 240.8,271.49 240.57,272.55 240.27,273.6 239.92,274.66 239.52,275.71 239.06,276.77 238.57,277.82 238.03,278.88 237.47,279.93 236.89,280.99 236.29,282.04 235.68,283.1 235.07,284.15 234.47,285.21 233.89,286.26 233.33,287.32 232.79,288.37 232.3,289.43 231.84,290.48 231.44,291.54 231.09,292.59 230.79,293.65 230.56,294.7 230.39,295.76 230.29,296.82 229.86,297.87 229.86,300.1 230.29,299.05 230.39,297.99 230.56,296.94 230.79,295.88 231.09,294.83 231.44,293.77 231.84,292.72 232.3,291.66 232.79,290.61 233.33,289.55 233.89,288.5 234.47,287.44 235.07,286.39 235.68,285.33 236.29,284.27 236.89,283.22 237.47,282.16 238.03,281.11 238.57,280.05 239.06,279 239.52,277.94 239.92,276.89 240.27,275.83 240.57,274.78 240.8,273.72 240.97,272.67 241.07,271.61 241.5,270.56" fill="#3ab5e2" opacity="0.35"/>
<polygon points="243.83,297.75 243.38,298.86 243.24,299.97 243,301.08 242.66,302.19 242.24,303.3 241.74,304.41 241.16,305.53 240.51,306.64 239.8,307.75 239.04,308.86 238.24,309.97 237.4,311.08 236.55,312.19 235.68,313.3 234.81,314.41 233.96,315.52 233.12,316.63 232.32,317.74 231.56,318.85 230.85,319.96 230.2,321.07 229.62,322.19 229.12,323.3 228.7,324.41 228.36,325.52 228.12,326.63 227.98,327.74 227.53,328.85 227.53,354.75 227.98,353.64 228.12,352.53 228.36,351.42 228.7,350.31 229.12,349.2 229.62,348.09 230.2,346.97 230.85,345.86 231.56,344.75 232.32,343.64 233.12,342.53 233.96,341.42 234.81,340.31 235.68,339.2 236.55,338.09 237.4,336.98 238.24,335.87 239.04,334.76 239.8,333.65 240.51,332.54 241.16,331.43 241.74,330.31 242.24,329.2 242.66,328.09 243,326.98 243.24,325.87 243.38,324.76 243.83,323.65" fill="url(#blueG)"/>
<polygon points="242.28,304.23 241.84,305.28 241.72,306.34 241.53,307.39 241.27,308.45 240.93,309.5 240.53,310.56 240.06,311.61 239.55,312.67 238.98,313.72 238.37,314.78 237.73,315.83 237.06,316.89 236.37,317.94 235.68,319 234.99,320.05 234.3,321.11 233.63,322.16 232.99,323.22 232.38,324.27 231.81,325.33 231.3,326.38 230.83,327.44 230.43,328.49 230.09,329.55 229.83,330.6 229.64,331.66 229.52,332.72 229.08,333.77 229.08,337.4 229.52,336.34 229.64,335.29 229.83,334.23 230.09,333.18 230.43,332.12 230.83,331.07 231.3,330.01 231.81,328.96 232.38,327.9 232.99,326.84 233.63,325.79 234.3,324.73 234.99,323.68 235.68,322.62 236.37,321.57 237.06,320.51 237.73,319.46 238.37,318.4 238.98,317.35 239.55,316.29 240.06,315.24 240.53,314.18 240.93,313.13 241.27,312.07 241.53,311.02 241.72,309.96 241.84,308.91 242.28,307.85" fill="#46bde8" opacity="0.45"/>
<polygon points="241.5,314.59 241.07,315.64 240.97,316.7 240.8,317.75 240.57,318.81 240.27,319.86 239.92,320.92 239.52,321.97 239.06,323.03 238.57,324.08 238.03,325.14 237.47,326.19 236.89,327.25 236.29,328.3 235.68,329.36 235.07,330.41 234.47,331.47 233.89,332.52 233.33,333.58 232.79,334.63 232.3,335.69 231.84,336.74 231.44,337.8 231.09,338.85 230.79,339.91 230.56,340.96 230.39,342.02 230.29,343.08 229.86,344.13 229.86,346.2 230.29,345.15 230.39,344.09 230.56,343.04 230.79,341.98 231.09,340.93 231.44,339.87 231.84,338.82 232.3,337.76 232.79,336.71 233.33,335.65 233.89,334.6 234.47,333.54 235.07,332.49 235.68,331.43 236.29,330.37 236.89,329.32 237.47,328.26 238.03,327.21 238.57,326.15 239.06,325.1 239.52,324.04 239.92,322.99 240.27,321.93 240.57,320.88 240.8,319.82 240.97,318.77 241.07,317.71 241.5,316.66" fill="#3ab5e2" opacity="0.35"/>
<polygon points="243.83,343.95 243.38,345.06 243.24,346.17 243,347.28 242.66,348.39 242.24,349.5 241.74,350.61 241.16,351.73 240.51,352.84 239.8,353.95 239.04,355.06 238.24,356.17 237.4,357.28 236.55,358.39 235.68,359.5 234.81,360.61 233.96,361.72 233.12,362.83 232.32,363.94 231.56,365.05 230.85,366.16 230.2,367.27 229.62,368.39 229.12,369.5 228.7,370.61 228.36,371.72 228.12,372.83 227.98,373.94 227.53,375.05 227.53,396.55 227.98,395.44 228.12,394.33 228.36,393.22 228.7,392.11 229.12,391 229.62,389.89 230.2,388.77 230.85,387.66 231.56,386.55 232.32,385.44 233.12,384.33 233.96,383.22 234.81,382.11 235.68,381 236.55,379.89 237.4,378.78 238.24,377.67 239.04,376.56 239.8,375.45 240.51,374.34 241.16,373.23 241.74,372.11 242.24,371 242.66,369.89 243,368.78 243.24,367.67 243.38,366.56 243.83,365.45" fill="url(#blueG)"/>
<polygon points="242.28,349.46 241.84,350.51 241.72,351.57 241.53,352.62 241.27,353.68 240.93,354.73 240.53,355.79 240.06,356.84 239.55,357.9 238.98,358.95 238.37,360.01 237.73,361.06 237.06,362.12 236.37,363.17 235.68,364.23 234.99,365.29 234.3,366.34 233.63,367.4 232.99,368.45 232.38,369.51 231.81,370.56 231.3,371.62 230.83,372.67 230.43,373.73 230.09,374.78 229.83,375.84 229.64,376.89 229.52,377.95 229.08,379 229.08,382.01 229.52,380.96 229.64,379.9 229.83,378.85 230.09,377.79 230.43,376.74 230.83,375.68 231.3,374.63 231.81,373.57 232.38,372.52 232.99,371.46 233.63,370.41 234.3,369.35 234.99,368.3 235.68,367.24 236.37,366.18 237.06,365.13 237.73,364.07 238.37,363.02 238.98,361.96 239.55,360.91 240.06,359.85 240.53,358.8 240.93,357.74 241.27,356.69 241.53,355.63 241.72,354.58 241.84,353.52 242.28,352.47" fill="#46bde8" opacity="0.45"/>
<polygon points="241.5,358.06 241.07,359.11 240.97,360.17 240.8,361.22 240.57,362.28 240.27,363.33 239.92,364.39 239.52,365.44 239.06,366.5 238.57,367.55 238.03,368.61 237.47,369.66 236.89,370.72 236.29,371.77 235.68,372.83 235.07,373.89 234.47,374.94 233.89,376 233.33,377.05 232.79,378.11 232.3,379.16 231.84,380.22 231.44,381.27 231.09,382.33 230.79,383.38 230.56,384.44 230.39,385.49 230.29,386.55 229.86,387.6 229.86,389.32 230.29,388.27 230.39,387.21 230.56,386.16 230.79,385.1 231.09,384.05 231.44,382.99 231.84,381.94 232.3,380.88 232.79,379.83 233.33,378.77 233.89,377.72 234.47,376.66 235.07,375.61 235.68,374.55 236.29,373.49 236.89,372.44 237.47,371.38 238.03,370.33 238.57,369.27 239.06,368.22 239.52,367.16 239.92,366.11 240.27,365.05 240.57,364 240.8,362.94 240.97,361.89 241.07,360.83 241.5,359.78" fill="#3ab5e2" opacity="0.35"/>
</g>
<polygon points="241,391 244.6,390 245,405 243.5,418 240.6,414 240.4,400" fill="url(#blueG)"/>
<rect x="225.6" y="539.58" width="18.8" height="5.22" fill="#2a9fd2"/>
</g>
<polygon points="236.7,207.3 246.2,213.2 246.2,225.5 245,228 245,242.9 227,242.9 227,228 226.9,225.5 226.9,213.2" fill="url(#tipG)"/>
<polygon points="236.7,207.3 246.2,213.2 246.2,225.5 245,228 245,242.6 240.56,242.6 240.56,214.43" fill="#0b6f99" opacity="0.12"/>
<polygon points="236.31,207.9 240.56,213.81 240.17,218.73 232.69,224.88 230.37,219.97" fill="#5cc8ee" opacity="0.5"/>
<line x1="237" y1="207.9" x2="245.8" y2="213.7" stroke="#9a9592" stroke-width="1.2" stroke-linecap="round"/>
<clipPath id="body3"><polygon points="334.1,240.2 352.1,240.2 352.1,391 352,415 352,535.8 351.4,537 342.8,543.8 342.2,543.8 333.6,537 333,535.8 333,415 334.1,391"/></clipPath>
<clipPath id="fl3"><polygon points="331.1,242.2 355.1,242.2 355.1,380 352.1,380 343.1,392 338.6,396 334.1,399 331.1,399"/></clipPath>
<g clip-path="url(#body3)">
<polygon points="334.1,239.2 352.1,239.2 352.1,391 352,415 352,544.8 333,544.8 333,415 334.1,391" fill="url(#steel)"/>
<g clip-path="url(#fl3)">
<polygon points="350.93,235.15 350.48,236.26 350.34,237.37 350.1,238.48 349.76,239.59 349.34,240.7 348.84,241.81 348.26,242.92 347.61,244.04 346.9,245.15 346.14,246.26 345.34,247.37 344.5,248.48 343.65,249.59 342.78,250.7 341.91,251.81 341.06,252.92 340.22,254.03 339.42,255.14 338.66,256.25 337.95,257.36 337.3,258.47 336.72,259.59 336.22,260.7 335.8,261.81 335.46,262.92 335.22,264.03 335.08,265.14 334.63,266.25 334.63,271.53 335.08,270.42 335.22,269.31 335.46,268.2 335.8,267.09 336.22,265.98 336.72,264.87 337.3,263.76 337.95,262.65 338.66,261.54 339.42,260.43 340.22,259.32 341.06,258.21 341.91,257.1 342.78,255.98 343.65,254.87 344.5,253.76 345.34,252.65 346.14,251.54 346.9,250.43 347.61,249.32 348.26,248.21 348.84,247.1 349.34,245.99 349.76,244.88 350.1,243.77 350.34,242.66 350.48,241.55 350.93,240.43" fill="#ffffff" opacity="0.22"/>
<polygon points="350.93,278.15 350.48,279.26 350.34,280.37 350.1,281.48 349.76,282.59 349.34,283.7 348.84,284.81 348.26,285.93 347.61,287.04 346.9,288.15 346.14,289.26 345.34,290.37 344.5,291.48 343.65,292.59 342.78,293.7 341.91,294.81 341.06,295.92 340.22,297.03 339.42,298.14 338.66,299.25 337.95,300.36 337.3,301.47 336.72,302.59 336.22,303.7 335.8,304.81 335.46,305.92 335.22,307.03 335.08,308.14 334.63,309.25 334.63,316.11 335.08,315 335.22,313.89 335.46,312.78 335.8,311.67 336.22,310.56 336.72,309.45 337.3,308.33 337.95,307.22 338.66,306.11 339.42,305 340.22,303.89 341.06,302.78 341.91,301.67 342.78,300.56 343.65,299.45 344.5,298.34 345.34,297.23 346.14,296.12 346.9,295.01 347.61,293.9 348.26,292.79 348.84,291.67 349.34,290.56 349.76,289.45 350.1,288.34 350.34,287.23 350.48,286.12 350.93,285.01" fill="#ffffff" opacity="0.22"/>
<polygon points="350.93,323.65 350.48,324.76 350.34,325.87 350.1,326.98 349.76,328.09 349.34,329.2 348.84,330.31 348.26,331.43 347.61,332.54 346.9,333.65 346.14,334.76 345.34,335.87 344.5,336.98 343.65,338.09 342.78,339.2 341.91,340.31 341.06,341.42 340.22,342.53 339.42,343.64 338.66,344.75 337.95,345.86 337.3,346.97 336.72,348.09 336.22,349.2 335.8,350.31 335.46,351.42 335.22,352.53 335.08,353.64 334.63,354.75 334.63,361.86 335.08,360.74 335.22,359.63 335.46,358.52 335.8,357.41 336.22,356.3 336.72,355.19 337.3,354.08 337.95,352.97 338.66,351.86 339.42,350.75 340.22,349.64 341.06,348.53 341.91,347.42 342.78,346.31 343.65,345.19 344.5,344.08 345.34,342.97 346.14,341.86 346.9,340.75 347.61,339.64 348.26,338.53 348.84,337.42 349.34,336.31 349.76,335.2 350.1,334.09 350.34,332.98 350.48,331.87 350.93,330.75" fill="#ffffff" opacity="0.22"/>
<polygon points="350.93,365.45 350.48,366.56 350.34,367.67 350.1,368.78 349.76,369.89 349.34,371 348.84,372.11 348.26,373.23 347.61,374.34 346.9,375.45 346.14,376.56 345.34,377.67 344.5,378.78 343.65,379.89 342.78,381 341.91,382.11 341.06,383.22 340.22,384.33 339.42,385.44 338.66,386.55 337.95,387.66 337.3,388.77 336.72,389.89 336.22,391 335.8,392.11 335.46,393.22 335.22,394.33 335.08,395.44 334.63,396.55 334.63,403.66 335.08,402.54 335.22,401.43 335.46,400.32 335.8,399.21 336.22,398.1 336.72,396.99 337.3,395.88 337.95,394.77 338.66,393.66 339.42,392.55 340.22,391.44 341.06,390.33 341.91,389.22 342.78,388.11 343.65,386.99 344.5,385.88 345.34,384.77 346.14,383.66 346.9,382.55 347.61,381.44 348.26,380.33 348.84,379.22 349.34,378.11 349.76,377 350.1,375.89 350.34,374.78 350.48,373.67 350.93,372.56" fill="#ffffff" opacity="0.22"/>
<polygon points="350.93,206.45 350.48,207.56 350.34,208.67 350.1,209.78 349.76,210.89 349.34,212 348.84,213.11 348.26,214.22 347.61,215.34 346.9,216.45 346.14,217.56 345.34,218.67 344.5,219.78 343.65,220.89 342.78,222 341.91,223.11 341.06,224.22 340.22,225.33 339.42,226.44 338.66,227.55 337.95,228.66 337.3,229.78 336.72,230.89 336.22,232 335.8,233.11 335.46,234.22 335.22,235.33 335.08,236.44 334.63,237.55 334.63,266.25 335.08,265.14 335.22,264.03 335.46,262.92 335.8,261.81 336.22,260.7 336.72,259.59 337.3,258.47 337.95,257.36 338.66,256.25 339.42,255.14 340.22,254.03 341.06,252.92 341.91,251.81 342.78,250.7 343.65,249.59 344.5,248.48 345.34,247.37 346.14,246.26 346.9,245.15 347.61,244.04 348.26,242.92 348.84,241.81 349.34,240.7 349.76,239.59 350.1,238.48 350.34,237.37 350.48,236.26 350.93,235.15" fill="url(#blueG)"/>
<polygon points="350.93,250.25 350.48,251.36 350.34,252.47 350.1,253.58 349.76,254.69 349.34,255.8 348.84,256.91 348.26,258.03 347.61,259.14 346.9,260.25 346.14,261.36 345.34,262.47 344.5,263.58 343.65,264.69 342.78,265.8 341.91,266.91 341.06,268.02 340.22,269.13 339.42,270.24 338.66,271.35 337.95,272.46 337.3,273.57 336.72,274.69 336.22,275.8 335.8,276.91 335.46,278.02 335.22,279.13 335.08,280.24 334.63,281.35 334.63,309.25 335.08,308.14 335.22,307.03 335.46,305.92 335.8,304.81 336.22,303.7 336.72,302.59 337.3,301.47 337.95,300.36 338.66,299.25 339.42,298.14 340.22,297.03 341.06,295.92 341.91,294.81 342.78,293.7 343.65,292.59 344.5,291.48 345.34,290.37 346.14,289.26 346.9,288.15 347.61,287.04 348.26,285.93 348.84,284.81 349.34,283.7 349.76,282.59 350.1,281.48 350.34,280.37 350.48,279.26 350.93,278.15" fill="url(#blueG)"/>
<polygon points="349.38,257.17 348.94,258.22 348.82,259.28 348.63,260.33 348.37,261.39 348.03,262.44 347.63,263.5 347.16,264.55 346.65,265.61 346.08,266.66 345.47,267.72 344.83,268.77 344.16,269.83 343.47,270.88 342.78,271.94 342.09,272.99 341.4,274.05 340.73,275.1 340.09,276.16 339.48,277.21 338.91,278.27 338.4,279.32 337.93,280.38 337.53,281.43 337.19,282.49 336.93,283.54 336.74,284.6 336.62,285.66 336.18,286.71 336.18,290.62 336.62,289.56 336.74,288.51 336.93,287.45 337.19,286.4 337.53,285.34 337.93,284.29 338.4,283.23 338.91,282.18 339.48,281.12 340.09,280.06 340.73,279.01 341.4,277.95 342.09,276.9 342.78,275.84 343.47,274.79 344.16,273.73 344.83,272.68 345.47,271.62 346.08,270.57 346.65,269.51 347.16,268.46 347.63,267.4 348.03,266.35 348.37,265.29 348.63,264.24 348.82,263.18 348.94,262.13 349.38,261.07" fill="#46bde8" opacity="0.45"/>
<polygon points="348.6,268.33 348.17,269.38 348.07,270.44 347.9,271.49 347.67,272.55 347.37,273.6 347.02,274.66 346.62,275.71 346.16,276.77 345.67,277.82 345.13,278.88 344.57,279.93 343.99,280.99 343.39,282.04 342.78,283.1 342.17,284.15 341.57,285.21 340.99,286.26 340.43,287.32 339.89,288.37 339.4,289.43 338.94,290.48 338.54,291.54 338.19,292.59 337.89,293.65 337.66,294.7 337.49,295.76 337.39,296.82 336.95,297.87 336.95,300.1 337.39,299.05 337.49,297.99 337.66,296.94 337.89,295.88 338.19,294.83 338.54,293.77 338.94,292.72 339.4,291.66 339.89,290.61 340.43,289.55 340.99,288.5 341.57,287.44 342.17,286.39 342.78,285.33 343.39,284.27 343.99,283.22 344.57,282.16 345.13,281.11 345.67,280.05 346.16,279 346.62,277.94 347.02,276.89 347.37,275.83 347.67,274.78 347.9,273.72 348.07,272.67 348.17,271.61 348.6,270.56" fill="#3ab5e2" opacity="0.35"/>
<polygon points="350.93,297.75 350.48,298.86 350.34,299.97 350.1,301.08 349.76,302.19 349.34,303.3 348.84,304.41 348.26,305.53 347.61,306.64 346.9,307.75 346.14,308.86 345.34,309.97 344.5,311.08 343.65,312.19 342.78,313.3 341.91,314.41 341.06,315.52 340.22,316.63 339.42,317.74 338.66,318.85 337.95,319.96 337.3,321.07 336.72,322.19 336.22,323.3 335.8,324.41 335.46,325.52 335.22,326.63 335.08,327.74 334.63,328.85 334.63,354.75 335.08,353.64 335.22,352.53 335.46,351.42 335.8,350.31 336.22,349.2 336.72,348.09 337.3,346.97 337.95,345.86 338.66,344.75 339.42,343.64 340.22,342.53 341.06,341.42 341.91,340.31 342.78,339.2 343.65,338.09 344.5,336.98 345.34,335.87 346.14,334.76 346.9,333.65 347.61,332.54 348.26,331.43 348.84,330.31 349.34,329.2 349.76,328.09 350.1,326.98 350.34,325.87 350.48,324.76 350.93,323.65" fill="url(#blueG)"/>
<polygon points="349.38,304.23 348.94,305.28 348.82,306.34 348.63,307.39 348.37,308.45 348.03,309.5 347.63,310.56 347.16,311.61 346.65,312.67 346.08,313.72 345.47,314.78 344.83,315.83 344.16,316.89 343.47,317.94 342.78,319 342.09,320.05 341.4,321.11 340.73,322.16 340.09,323.22 339.48,324.27 338.91,325.33 338.4,326.38 337.93,327.44 337.53,328.49 337.19,329.55 336.93,330.6 336.74,331.66 336.62,332.72 336.18,333.77 336.18,337.4 336.62,336.34 336.74,335.29 336.93,334.23 337.19,333.18 337.53,332.12 337.93,331.07 338.4,330.01 338.91,328.96 339.48,327.9 340.09,326.84 340.73,325.79 341.4,324.73 342.09,323.68 342.78,322.62 343.47,321.57 344.16,320.51 344.83,319.46 345.47,318.4 346.08,317.35 346.65,316.29 347.16,315.24 347.63,314.18 348.03,313.13 348.37,312.07 348.63,311.02 348.82,309.96 348.94,308.91 349.38,307.85" fill="#46bde8" opacity="0.45"/>
<polygon points="348.6,314.59 348.17,315.64 348.07,316.7 347.9,317.75 347.67,318.81 347.37,319.86 347.02,320.92 346.62,321.97 346.16,323.03 345.67,324.08 345.13,325.14 344.57,326.19 343.99,327.25 343.39,328.3 342.78,329.36 342.17,330.41 341.57,331.47 340.99,332.52 340.43,333.58 339.89,334.63 339.4,335.69 338.94,336.74 338.54,337.8 338.19,338.85 337.89,339.91 337.66,340.96 337.49,342.02 337.39,343.08 336.95,344.13 336.95,346.2 337.39,345.15 337.49,344.09 337.66,343.04 337.89,341.98 338.19,340.93 338.54,339.87 338.94,338.82 339.4,337.76 339.89,336.71 340.43,335.65 340.99,334.6 341.57,333.54 342.17,332.49 342.78,331.43 343.39,330.37 343.99,329.32 344.57,328.26 345.13,327.21 345.67,326.15 346.16,325.1 346.62,324.04 347.02,322.99 347.37,321.93 347.67,320.88 347.9,319.82 348.07,318.77 348.17,317.71 348.6,316.66" fill="#3ab5e2" opacity="0.35"/>
<polygon points="350.93,343.95 350.48,345.06 350.34,346.17 350.1,347.28 349.76,348.39 349.34,349.5 348.84,350.61 348.26,351.73 347.61,352.84 346.9,353.95 346.14,355.06 345.34,356.17 344.5,357.28 343.65,358.39 342.78,359.5 341.91,360.61 341.06,361.72 340.22,362.83 339.42,363.94 338.66,365.05 337.95,366.16 337.3,367.27 336.72,368.39 336.22,369.5 335.8,370.61 335.46,371.72 335.22,372.83 335.08,373.94 334.63,375.05 334.63,396.55 335.08,395.44 335.22,394.33 335.46,393.22 335.8,392.11 336.22,391 336.72,389.89 337.3,388.77 337.95,387.66 338.66,386.55 339.42,385.44 340.22,384.33 341.06,383.22 341.91,382.11 342.78,381 343.65,379.89 344.5,378.78 345.34,377.67 346.14,376.56 346.9,375.45 347.61,374.34 348.26,373.23 348.84,372.11 349.34,371 349.76,369.89 350.1,368.78 350.34,367.67 350.48,366.56 350.93,365.45" fill="url(#blueG)"/>
<polygon points="349.38,349.46 348.94,350.51 348.82,351.57 348.63,352.62 348.37,353.68 348.03,354.73 347.63,355.79 347.16,356.84 346.65,357.9 346.08,358.95 345.47,360.01 344.83,361.06 344.16,362.12 343.47,363.17 342.78,364.23 342.09,365.29 341.4,366.34 340.73,367.4 340.09,368.45 339.48,369.51 338.91,370.56 338.4,371.62 337.93,372.67 337.53,373.73 337.19,374.78 336.93,375.84 336.74,376.89 336.62,377.95 336.18,379 336.18,382.01 336.62,380.96 336.74,379.9 336.93,378.85 337.19,377.79 337.53,376.74 337.93,375.68 338.4,374.63 338.91,373.57 339.48,372.52 340.09,371.46 340.73,370.41 341.4,369.35 342.09,368.3 342.78,367.24 343.47,366.18 344.16,365.13 344.83,364.07 345.47,363.02 346.08,361.96 346.65,360.91 347.16,359.85 347.63,358.8 348.03,357.74 348.37,356.69 348.63,355.63 348.82,354.58 348.94,353.52 349.38,352.47" fill="#46bde8" opacity="0.45"/>
<polygon points="348.6,358.06 348.17,359.11 348.07,360.17 347.9,361.22 347.67,362.28 347.37,363.33 347.02,364.39 346.62,365.44 346.16,366.5 345.67,367.55 345.13,368.61 344.57,369.66 343.99,370.72 343.39,371.77 342.78,372.83 342.17,373.89 341.57,374.94 340.99,376 340.43,377.05 339.89,378.11 339.4,379.16 338.94,380.22 338.54,381.27 338.19,382.33 337.89,383.38 337.66,384.44 337.49,385.49 337.39,386.55 336.95,387.6 336.95,389.32 337.39,388.27 337.49,387.21 337.66,386.16 337.89,385.1 338.19,384.05 338.54,382.99 338.94,381.94 339.4,380.88 339.89,379.83 340.43,378.77 340.99,377.72 341.57,376.66 342.17,375.61 342.78,374.55 343.39,373.49 343.99,372.44 344.57,371.38 345.13,370.33 345.67,369.27 346.16,368.22 346.62,367.16 347.02,366.11 347.37,365.05 347.67,364 347.9,362.94 348.07,361.89 348.17,360.83 348.6,359.78" fill="#3ab5e2" opacity="0.35"/>
</g>
<polygon points="348.1,391 351.7,390 352.1,405 350.6,418 347.7,414 347.5,400" fill="url(#blueG)"/>
<rect x="333" y="539.58" width="19" height="5.22" fill="#2a9fd2"/>
</g>
<polygon points="343.1,207.4 353,212.9 353,224 352.1,226.5 352.1,242.5 334.1,242.5 334.1,226.5 333.2,224 333.2,212.9" fill="url(#tipG)"/>
<polygon points="343.1,207.4 353,212.9 353,224 352.1,226.5 352.1,242.2 347.06,242.2 347.06,214.01" fill="#0b6f99" opacity="0.12"/>
<polygon points="342.7,208 347.06,213.46 346.66,217.9 339.14,223.44 336.76,219" fill="#5cc8ee" opacity="0.5"/>
<line x1="343.4" y1="208" x2="352.6" y2="213.4" stroke="#9a9592" stroke-width="1.2" stroke-linecap="round"/>
<clipPath id="body4"><polygon points="446.8,172.5 469.8,172.5 469.8,377 469,401 469,534.3 468.4,535.5 457.3,543.3 456.7,543.3 445.6,535.5 445,534.3 445,401 446.8,377"/></clipPath>
<clipPath id="fl4"><polygon points="443.8,174.5 472.8,174.5 472.8,385 469.8,385 465.2,382 460.6,376 456.57,371 454.85,362 454.5,345 452.55,340 446.8,356 443.8,356"/></clipPath>
<g clip-path="url(#body4)">
<polygon points="446.8,171.5 469.8,171.5 469.8,377 469,401 469,544.3 445,544.3 445,401 446.8,377" fill="url(#steel)"/>
<g clip-path="url(#fl4)">
<polygon points="472.23,152.9 471.74,155.61 471.49,158.33 471.06,161.04 470.48,163.76 469.74,166.47 468.85,169.19 467.83,171.9 466.69,174.61 465.44,177.33 464.1,180.04 462.68,182.76 461.21,185.47 459.7,188.19 458.17,190.9 456.64,193.61 455.13,196.33 453.66,199.04 452.24,201.76 450.9,204.47 449.65,207.19 448.51,209.9 447.49,212.61 446.6,215.33 445.86,218.04 445.28,220.76 444.85,223.47 444.6,226.19 444.11,228.9 444.11,237.12 444.6,234.41 444.85,231.7 445.28,228.98 445.86,226.27 446.6,223.55 447.49,220.84 448.51,218.12 449.65,215.41 450.9,212.7 452.24,209.98 453.66,207.27 455.13,204.55 456.64,201.84 458.17,199.12 459.7,196.41 461.21,193.7 462.68,190.98 464.1,188.27 465.44,185.55 466.69,182.84 467.83,180.12 468.85,177.41 469.74,174.7 470.48,171.98 471.06,169.27 471.49,166.55 471.74,163.84 472.23,161.12" fill="#ffffff" opacity="0.22"/>
<polygon points="472.23,218.8 471.74,221.51 471.49,224.23 471.06,226.94 470.48,229.66 469.74,232.37 468.85,235.09 467.83,237.8 466.69,240.51 465.44,243.23 464.1,245.94 462.68,248.66 461.21,251.37 459.7,254.09 458.17,256.8 456.64,259.51 455.13,262.23 453.66,264.94 452.24,267.66 450.9,270.37 449.65,273.09 448.51,275.8 447.49,278.51 446.6,281.23 445.86,283.94 445.28,286.66 444.85,289.37 444.6,292.09 444.11,294.8 444.11,303.48 444.6,300.77 444.85,298.05 445.28,295.34 445.86,292.62 446.6,289.91 447.49,287.19 448.51,284.48 449.65,281.77 450.9,279.05 452.24,276.34 453.66,273.62 455.13,270.91 456.64,268.19 458.17,265.48 459.7,262.77 461.21,260.05 462.68,257.34 464.1,254.62 465.44,251.91 466.69,249.19 467.83,246.48 468.85,243.77 469.74,241.05 470.48,238.34 471.06,235.62 471.49,232.91 471.74,230.19 472.23,227.48" fill="#ffffff" opacity="0.22"/>
<polygon points="472.23,282.6 471.74,285.31 471.49,288.03 471.06,290.74 470.48,293.46 469.74,296.17 468.85,298.89 467.83,301.6 466.69,304.31 465.44,307.03 464.1,309.74 462.68,312.46 461.21,315.17 459.7,317.89 458.17,320.6 456.64,323.31 455.13,326.03 453.66,328.74 452.24,331.46 450.9,334.17 449.65,336.89 448.51,339.6 447.49,342.31 446.6,345.03 445.86,347.74 445.28,350.46 444.85,353.17 444.6,355.89 444.11,358.6 444.11,367.25 444.6,364.53 444.85,361.82 445.28,359.1 445.86,356.39 446.6,353.67 447.49,350.96 448.51,348.25 449.65,345.53 450.9,342.82 452.24,340.1 453.66,337.39 455.13,334.67 456.64,331.96 458.17,329.25 459.7,326.53 461.21,323.82 462.68,321.1 464.1,318.39 465.44,315.67 466.69,312.96 467.83,310.25 468.85,307.53 469.74,304.82 470.48,302.1 471.06,299.39 471.49,296.67 471.74,293.96 472.23,291.25" fill="#ffffff" opacity="0.22"/>
<polygon points="472.23,347 471.74,349.71 471.49,352.43 471.06,355.14 470.48,357.86 469.74,360.57 468.85,363.29 467.83,366 466.69,368.71 465.44,371.43 464.1,374.14 462.68,376.86 461.21,379.57 459.7,382.29 458.17,385 456.64,387.71 455.13,390.43 453.66,393.14 452.24,395.86 450.9,398.57 449.65,401.29 448.51,404 447.49,406.71 446.6,409.43 445.86,412.14 445.28,414.86 444.85,417.57 444.6,420.29 444.11,423 444.11,431.64 444.6,428.93 444.85,426.22 445.28,423.5 445.86,420.79 446.6,418.07 447.49,415.36 448.51,412.64 449.65,409.93 450.9,407.22 452.24,404.5 453.66,401.79 455.13,399.07 456.64,396.36 458.17,393.64 459.7,390.93 461.21,388.22 462.68,385.5 464.1,382.79 465.44,380.07 466.69,377.36 467.83,374.64 468.85,371.93 469.74,369.22 470.48,366.5 471.06,363.79 471.49,361.07 471.74,358.36 472.23,355.64" fill="#ffffff" opacity="0.22"/>
<polygon points="472.23,112 471.74,114.71 471.49,117.43 471.06,120.14 470.48,122.86 469.74,125.57 468.85,128.29 467.83,131 466.69,133.71 465.44,136.43 464.1,139.14 462.68,141.86 461.21,144.57 459.7,147.29 458.17,150 456.64,152.71 455.13,155.43 453.66,158.14 452.24,160.86 450.9,163.57 449.65,166.29 448.51,169 447.49,171.71 446.6,174.43 445.86,177.14 445.28,179.86 444.85,182.57 444.6,185.29 444.11,188 444.11,228.9 444.6,226.19 444.85,223.47 445.28,220.76 445.86,218.04 446.6,215.33 447.49,212.61 448.51,209.9 449.65,207.19 450.9,204.47 452.24,201.76 453.66,199.04 455.13,196.33 456.64,193.61 458.17,190.9 459.7,188.19 461.21,185.47 462.68,182.76 464.1,180.04 465.44,177.33 466.69,174.61 467.83,171.9 468.85,169.19 469.74,166.47 470.48,163.76 471.06,161.04 471.49,158.33 471.74,155.61 472.23,152.9" fill="url(#blueG)"/>
<polygon points="472.23,176.4 471.74,179.11 471.49,181.83 471.06,184.54 470.48,187.26 469.74,189.97 468.85,192.69 467.83,195.4 466.69,198.11 465.44,200.83 464.1,203.54 462.68,206.26 461.21,208.97 459.7,211.69 458.17,214.4 456.64,217.11 455.13,219.83 453.66,222.54 452.24,225.26 450.9,227.97 449.65,230.69 448.51,233.4 447.49,236.11 446.6,238.83 445.86,241.54 445.28,244.26 444.85,246.97 444.6,249.69 444.11,252.4 444.11,294.8 444.6,292.09 444.85,289.37 445.28,286.66 445.86,283.94 446.6,281.23 447.49,278.51 448.51,275.8 449.65,273.09 450.9,270.37 452.24,267.66 453.66,264.94 455.13,262.23 456.64,259.51 458.17,256.8 459.7,254.09 461.21,251.37 462.68,248.66 464.1,245.94 465.44,243.23 466.69,240.51 467.83,237.8 468.85,235.09 469.74,232.37 470.48,229.66 471.06,226.94 471.49,224.23 471.74,221.51 472.23,218.8" fill="url(#blueG)"/>
<polygon points="469.5,187.63 469.03,190.21 468.82,192.79 468.48,195.36 468.02,197.94 467.42,200.52 466.71,203.1 465.9,205.68 464.98,208.26 463.98,210.84 462.91,213.41 461.78,215.99 460.6,218.57 459.39,221.15 458.17,223.73 456.95,226.31 455.74,228.89 454.56,231.46 453.43,234.04 452.36,236.62 451.36,239.2 450.44,241.78 449.63,244.36 448.92,246.94 448.32,249.51 447.86,252.09 447.52,254.67 447.31,257.25 446.84,259.83 446.84,265.76 447.31,263.19 447.52,260.61 447.86,258.03 448.32,255.45 448.92,252.87 449.63,250.29 450.44,247.71 451.36,245.14 452.36,242.56 453.43,239.98 454.56,237.4 455.74,234.82 456.95,232.24 458.17,229.66 459.39,227.09 460.6,224.51 461.78,221.93 462.91,219.35 463.98,216.77 464.98,214.19 465.9,211.61 466.71,209.04 467.42,206.46 468.02,203.88 468.48,201.3 468.82,198.72 469.03,196.14 469.5,193.56" fill="#46bde8" opacity="0.45"/>
<polygon points="468.13,204.59 467.67,207.17 467.49,209.75 467.2,212.32 466.79,214.9 466.27,217.48 465.65,220.06 464.93,222.64 464.13,225.22 463.26,227.8 462.32,230.37 461.33,232.95 460.3,235.53 459.24,238.11 458.17,240.69 457.1,243.27 456.04,245.85 455.01,248.42 454.02,251 453.08,253.58 452.21,256.16 451.41,258.74 450.69,261.32 450.07,263.9 449.55,266.47 449.14,269.05 448.85,271.63 448.67,274.21 448.21,276.79 448.21,280.18 448.67,277.6 448.85,275.02 449.14,272.44 449.55,269.87 450.07,267.29 450.69,264.71 451.41,262.13 452.21,259.55 453.08,256.97 454.02,254.39 455.01,251.82 456.04,249.24 457.1,246.66 458.17,244.08 459.24,241.5 460.3,238.92 461.33,236.34 462.32,233.77 463.26,231.19 464.13,228.61 464.93,226.03 465.65,223.45 466.27,220.87 466.79,218.29 467.2,215.72 467.49,213.14 467.67,210.56 468.13,207.98" fill="#3ab5e2" opacity="0.35"/>
<polygon points="472.23,243.6 471.74,246.31 471.49,249.03 471.06,251.74 470.48,254.46 469.74,257.17 468.85,259.89 467.83,262.6 466.69,265.31 465.44,268.03 464.1,270.74 462.68,273.46 461.21,276.17 459.7,278.89 458.17,281.6 456.64,284.31 455.13,287.03 453.66,289.74 452.24,292.46 450.9,295.17 449.65,297.89 448.51,300.6 447.49,303.31 446.6,306.03 445.86,308.74 445.28,311.46 444.85,314.17 444.6,316.89 444.11,319.6 444.11,358.6 444.6,355.89 444.85,353.17 445.28,350.46 445.86,347.74 446.6,345.03 447.49,342.31 448.51,339.6 449.65,336.89 450.9,334.17 452.24,331.46 453.66,328.74 455.13,326.03 456.64,323.31 458.17,320.6 459.7,317.89 461.21,315.17 462.68,312.46 464.1,309.74 465.44,307.03 466.69,304.31 467.83,301.6 468.85,298.89 469.74,296.17 470.48,293.46 471.06,290.74 471.49,288.03 471.74,285.31 472.23,282.6" fill="url(#blueG)"/>
<polygon points="469.5,254.08 469.03,256.66 468.82,259.24 468.48,261.82 468.02,264.39 467.42,266.97 466.71,269.55 465.9,272.13 464.98,274.71 463.98,277.29 462.91,279.87 461.78,282.44 460.6,285.02 459.39,287.6 458.17,290.18 456.95,292.76 455.74,295.34 454.56,297.92 453.43,300.49 452.36,303.07 451.36,305.65 450.44,308.23 449.63,310.81 448.92,313.39 448.32,315.97 447.86,318.54 447.52,321.12 447.31,323.7 446.84,326.28 446.84,331.74 447.31,329.16 447.52,326.58 447.86,324 448.32,321.43 448.92,318.85 449.63,316.27 450.44,313.69 451.36,311.11 452.36,308.53 453.43,305.95 454.56,303.38 455.74,300.8 456.95,298.22 458.17,295.64 459.39,293.06 460.6,290.48 461.78,287.9 462.91,285.33 463.98,282.75 464.98,280.17 465.9,277.59 466.71,275.01 467.42,272.43 468.02,269.85 468.48,267.28 468.82,264.7 469.03,262.12 469.5,259.54" fill="#46bde8" opacity="0.45"/>
<polygon points="468.13,269.68 467.67,272.26 467.49,274.84 467.2,277.42 466.79,279.99 466.27,282.57 465.65,285.15 464.93,287.73 464.13,290.31 463.26,292.89 462.32,295.47 461.33,298.04 460.3,300.62 459.24,303.2 458.17,305.78 457.1,308.36 456.04,310.94 455.01,313.52 454.02,316.09 453.08,318.67 452.21,321.25 451.41,323.83 450.69,326.41 450.07,328.99 449.55,331.57 449.14,334.14 448.85,336.72 448.67,339.3 448.21,341.88 448.21,345 448.67,342.42 448.85,339.84 449.14,337.26 449.55,334.69 450.07,332.11 450.69,329.53 451.41,326.95 452.21,324.37 453.08,321.79 454.02,319.21 455.01,316.64 456.04,314.06 457.1,311.48 458.17,308.9 459.24,306.32 460.3,303.74 461.33,301.16 462.32,298.59 463.26,296.01 464.13,293.43 464.93,290.85 465.65,288.27 466.27,285.69 466.79,283.11 467.2,280.54 467.49,277.96 467.67,275.38 468.13,272.8" fill="#3ab5e2" opacity="0.35"/>
<polygon points="472.23,307.3 471.74,310.01 471.49,312.73 471.06,315.44 470.48,318.16 469.74,320.87 468.85,323.59 467.83,326.3 466.69,329.01 465.44,331.73 464.1,334.44 462.68,337.16 461.21,339.87 459.7,342.59 458.17,345.3 456.64,348.01 455.13,350.73 453.66,353.44 452.24,356.16 450.9,358.87 449.65,361.59 448.51,364.3 447.49,367.01 446.6,369.73 445.86,372.44 445.28,375.16 444.85,377.87 444.6,380.59 444.11,383.3 444.11,423 444.6,420.29 444.85,417.57 445.28,414.86 445.86,412.14 446.6,409.43 447.49,406.71 448.51,404 449.65,401.29 450.9,398.57 452.24,395.86 453.66,393.14 455.13,390.43 456.64,387.71 458.17,385 459.7,382.29 461.21,379.57 462.68,376.86 464.1,374.14 465.44,371.43 466.69,368.71 467.83,366 468.85,363.29 469.74,360.57 470.48,357.86 471.06,355.14 471.49,352.43 471.74,349.71 472.23,347" fill="url(#blueG)"/>
<polygon points="469.5,317.93 469.03,320.51 468.82,323.09 468.48,325.67 468.02,328.25 467.42,330.83 466.71,333.41 465.9,335.98 464.98,338.56 463.98,341.14 462.91,343.72 461.78,346.3 460.6,348.88 459.39,351.46 458.17,354.03 456.95,356.61 455.74,359.19 454.56,361.77 453.43,364.35 452.36,366.93 451.36,369.51 450.44,372.08 449.63,374.66 448.92,377.24 448.32,379.82 447.86,382.4 447.52,384.98 447.31,387.56 446.84,390.13 446.84,395.69 447.31,393.11 447.52,390.53 447.86,387.96 448.32,385.38 448.92,382.8 449.63,380.22 450.44,377.64 451.36,375.06 452.36,372.48 453.43,369.91 454.56,367.33 455.74,364.75 456.95,362.17 458.17,359.59 459.39,357.01 460.6,354.43 461.78,351.86 462.91,349.28 463.98,346.7 464.98,344.12 465.9,341.54 466.71,338.96 467.42,336.38 468.02,333.81 468.48,331.23 468.82,328.65 469.03,326.07 469.5,323.49" fill="#46bde8" opacity="0.45"/>
<polygon points="468.13,333.81 467.67,336.39 467.49,338.97 467.2,341.55 466.79,344.13 466.27,346.71 465.65,349.29 464.93,351.86 464.13,354.44 463.26,357.02 462.32,359.6 461.33,362.18 460.3,364.76 459.24,367.34 458.17,369.91 457.1,372.49 456.04,375.07 455.01,377.65 454.02,380.23 453.08,382.81 452.21,385.39 451.41,387.96 450.69,390.54 450.07,393.12 449.55,395.7 449.14,398.28 448.85,400.86 448.67,403.44 448.21,406.01 448.21,409.19 448.67,406.61 448.85,404.03 449.14,401.45 449.55,398.88 450.07,396.3 450.69,393.72 451.41,391.14 452.21,388.56 453.08,385.98 454.02,383.4 455.01,380.83 456.04,378.25 457.1,375.67 458.17,373.09 459.24,370.51 460.3,367.93 461.33,365.35 462.32,362.78 463.26,360.2 464.13,357.62 464.93,355.04 465.65,352.46 466.27,349.88 466.79,347.3 467.2,344.73 467.49,342.15 467.67,339.57 468.13,336.99" fill="#3ab5e2" opacity="0.35"/>
</g>
<rect x="445" y="538.46" width="24" height="5.84" fill="#2a9fd2"/>
</g>
<polygon points="457.8,140.7 471.1,147.9 471.1,159 469.8,161.5 469.8,174.8 446.8,174.8 446.8,161.5 444.9,159 444.9,147.9" fill="url(#tipG)"/>
<polygon points="457.8,140.7 471.1,147.9 471.1,159 469.8,161.5 469.8,174.5 463.04,174.5 463.04,149.01" fill="#0b6f99" opacity="0.12"/>
<polygon points="457.28,141.3 463.04,148.46 462.52,152.9 452.76,158.44 449.62,154" fill="#5cc8ee" opacity="0.5"/>
<line x1="458.1" y1="141.3" x2="470.7" y2="148.4" stroke="#9a9592" stroke-width="1.57" stroke-linecap="round"/>
<clipPath id="body5"><polygon points="569.1,184.9 598.9,184.9 598.9,372 597.1,396 597.1,532.3 596.5,533.5 582.9,544.2 582.3,544.2 568.7,533.5 568.1,532.3 568.1,396 569.1,372"/></clipPath>
<clipPath id="fl5"><polygon points="566.1,186.9 601.9,186.9 601.9,350 598.9,350 584,365 569.1,380 566.1,380"/></clipPath>
<g clip-path="url(#body5)">
<polygon points="569.1,183.9 598.9,183.9 598.9,372 597.1,396 597.1,545.2 568.1,545.2 568.1,396 569.1,372" fill="url(#steel)"/>
<g clip-path="url(#fl5)">
<polygon points="597.75,157.6 597.26,160.02 597,162.44 596.56,164.86 595.96,167.29 595.2,169.71 594.29,172.13 593.24,174.55 592.06,176.97 590.78,179.39 589.4,181.81 587.95,184.24 586.43,186.66 584.88,189.08 583.31,191.5 581.74,193.92 580.19,196.34 578.67,198.76 577.22,201.19 575.84,203.61 574.56,206.03 573.38,208.45 572.33,210.87 571.42,213.29 570.66,215.71 570.06,218.14 569.62,220.56 569.36,222.98 568.87,225.4 568.87,236.15 569.36,233.72 569.62,231.3 570.06,228.88 570.66,226.46 571.42,224.04 572.33,221.62 573.38,219.19 574.56,216.77 575.84,214.35 577.22,211.93 578.67,209.51 580.19,207.09 581.74,204.67 583.31,202.25 584.88,199.82 586.43,197.4 587.95,194.98 589.4,192.56 590.78,190.14 592.06,187.72 593.24,185.3 594.29,182.87 595.2,180.45 595.96,178.03 596.56,175.61 597,173.19 597.26,170.77 597.75,168.34" fill="#ffffff" opacity="0.22"/>
<polygon points="597.75,237.1 597.26,239.52 597,241.94 596.56,244.36 595.96,246.79 595.2,249.21 594.29,251.63 593.24,254.05 592.06,256.47 590.78,258.89 589.4,261.31 587.95,263.74 586.43,266.16 584.88,268.58 583.31,271 581.74,273.42 580.19,275.84 578.67,278.26 577.22,280.69 575.84,283.11 574.56,285.53 573.38,287.95 572.33,290.37 571.42,292.79 570.66,295.21 570.06,297.64 569.62,300.06 569.36,302.48 568.87,304.9 568.87,317.32 569.36,314.9 569.62,312.48 570.06,310.06 570.66,307.64 571.42,305.22 572.33,302.8 573.38,300.38 574.56,297.95 575.84,295.53 577.22,293.11 578.67,290.69 580.19,288.27 581.74,285.85 583.31,283.43 584.88,281 586.43,278.58 587.95,276.16 589.4,273.74 590.78,271.32 592.06,268.9 593.24,266.48 594.29,264.05 595.2,261.63 595.96,259.21 596.56,256.79 597,254.37 597.26,251.95 597.75,249.53" fill="#ffffff" opacity="0.22"/>
<polygon points="597.75,316.5 597.26,318.92 597,321.34 596.56,323.76 595.96,326.19 595.2,328.61 594.29,331.03 593.24,333.45 592.06,335.87 590.78,338.29 589.4,340.71 587.95,343.14 586.43,345.56 584.88,347.98 583.31,350.4 581.74,352.82 580.19,355.24 578.67,357.66 577.22,360.09 575.84,362.51 574.56,364.93 573.38,367.35 572.33,369.77 571.42,372.19 570.66,374.61 570.06,377.04 569.62,379.46 569.36,381.88 568.87,384.3 568.87,396.72 569.36,394.3 569.62,391.88 570.06,389.46 570.66,387.04 571.42,384.62 572.33,382.2 573.38,379.77 574.56,377.35 575.84,374.93 577.22,372.51 578.67,370.09 580.19,367.67 581.74,365.25 583.31,362.82 584.88,360.4 586.43,357.98 587.95,355.56 589.4,353.14 590.78,350.72 592.06,348.3 593.24,345.88 594.29,343.45 595.2,341.03 595.96,338.61 596.56,336.19 597,333.77 597.26,331.35 597.75,328.93" fill="#ffffff" opacity="0.22"/>
<polygon points="597.75,106.1 597.26,108.52 597,110.94 596.56,113.36 595.96,115.79 595.2,118.21 594.29,120.63 593.24,123.05 592.06,125.47 590.78,127.89 589.4,130.31 587.95,132.74 586.43,135.16 584.88,137.58 583.31,140 581.74,142.42 580.19,144.84 578.67,147.26 577.22,149.69 575.84,152.11 574.56,154.53 573.38,156.95 572.33,159.37 571.42,161.79 570.66,164.21 570.06,166.64 569.62,169.06 569.36,171.48 568.87,173.9 568.87,225.4 569.36,222.98 569.62,220.56 570.06,218.14 570.66,215.71 571.42,213.29 572.33,210.87 573.38,208.45 574.56,206.03 575.84,203.61 577.22,201.19 578.67,198.76 580.19,196.34 581.74,193.92 583.31,191.5 584.88,189.08 586.43,186.66 587.95,184.24 589.4,181.81 590.78,179.39 592.06,176.97 593.24,174.55 594.29,172.13 595.2,169.71 595.96,167.29 596.56,164.86 597,162.44 597.26,160.02 597.75,157.6" fill="url(#blueG)"/>
<polygon points="597.75,188.3 597.26,190.72 597,193.14 596.56,195.56 595.96,197.99 595.2,200.41 594.29,202.83 593.24,205.25 592.06,207.67 590.78,210.09 589.4,212.51 587.95,214.94 586.43,217.36 584.88,219.78 583.31,222.2 581.74,224.62 580.19,227.04 578.67,229.46 577.22,231.89 575.84,234.31 574.56,236.73 573.38,239.15 572.33,241.57 571.42,243.99 570.66,246.41 570.06,248.84 569.62,251.26 569.36,253.68 568.87,256.1 568.87,304.9 569.36,302.48 569.62,300.06 570.06,297.64 570.66,295.21 571.42,292.79 572.33,290.37 573.38,287.95 574.56,285.53 575.84,283.11 577.22,280.69 578.67,278.26 580.19,275.84 581.74,273.42 583.31,271 584.88,268.58 586.43,266.16 587.95,263.74 589.4,261.31 590.78,258.89 592.06,256.47 593.24,254.05 594.29,251.63 595.2,249.21 595.96,246.79 596.56,244.36 597,241.94 597.26,239.52 597.75,237.1" fill="url(#blueG)"/>
<polygon points="594.94,200.73 594.47,203.03 594.26,205.33 593.91,207.63 593.43,209.93 592.82,212.23 592.09,214.53 591.25,216.83 590.31,219.13 589.29,221.43 588.18,223.73 587.02,226.03 585.81,228.34 584.57,230.64 583.31,232.94 582.05,235.24 580.81,237.54 579.6,239.84 578.44,242.14 577.33,244.44 576.31,246.74 575.37,249.04 574.53,251.34 573.8,253.64 573.19,255.94 572.71,258.24 572.36,260.54 572.15,262.84 571.68,265.14 571.68,271.97 572.15,269.67 572.36,267.37 572.71,265.07 573.19,262.77 573.8,260.47 574.53,258.17 575.37,255.87 576.31,253.57 577.33,251.27 578.44,248.97 579.6,246.67 580.81,244.37 582.05,242.07 583.31,239.77 584.57,237.47 585.81,235.17 587.02,232.87 588.18,230.57 589.29,228.27 590.31,225.97 591.25,223.67 592.09,221.37 592.82,219.06 593.43,216.76 593.91,214.46 594.26,212.16 594.47,209.86 594.94,207.56" fill="#46bde8" opacity="0.45"/>
<polygon points="593.54,220.25 593.08,222.55 592.89,224.85 592.59,227.15 592.16,229.45 591.63,231.75 590.99,234.05 590.26,236.35 589.44,238.65 588.54,240.95 587.57,243.25 586.56,245.55 585.5,247.86 584.41,250.16 583.31,252.46 582.21,254.76 581.12,257.06 580.06,259.36 579.05,261.66 578.08,263.96 577.18,266.26 576.36,268.56 575.63,270.86 574.99,273.16 574.46,275.46 574.03,277.76 573.73,280.06 573.54,282.36 573.08,284.66 573.08,288.56 573.54,286.26 573.73,283.96 574.03,281.66 574.46,279.36 574.99,277.06 575.63,274.76 576.36,272.46 577.18,270.16 578.08,267.86 579.05,265.56 580.06,263.26 581.12,260.96 582.21,258.66 583.31,256.36 584.41,254.06 585.5,251.76 586.56,249.46 587.57,247.16 588.54,244.86 589.44,242.56 590.26,240.26 590.99,237.96 591.63,235.66 592.16,233.36 592.59,231.06 592.89,228.76 593.08,226.46 593.54,224.16" fill="#3ab5e2" opacity="0.35"/>
<polygon points="597.75,272.6 597.26,275.02 597,277.44 596.56,279.86 595.96,282.29 595.2,284.71 594.29,287.13 593.24,289.55 592.06,291.97 590.78,294.39 589.4,296.81 587.95,299.24 586.43,301.66 584.88,304.08 583.31,306.5 581.74,308.92 580.19,311.34 578.67,313.76 577.22,316.19 575.84,318.61 574.56,321.03 573.38,323.45 572.33,325.87 571.42,328.29 570.66,330.71 570.06,333.14 569.62,335.56 569.36,337.98 568.87,340.4 568.87,384.3 569.36,381.88 569.62,379.46 570.06,377.04 570.66,374.61 571.42,372.19 572.33,369.77 573.38,367.35 574.56,364.93 575.84,362.51 577.22,360.09 578.67,357.66 580.19,355.24 581.74,352.82 583.31,350.4 584.88,347.98 586.43,345.56 587.95,343.14 589.4,340.71 590.78,338.29 592.06,335.87 593.24,333.45 594.29,331.03 595.2,328.61 595.96,326.19 596.56,323.76 597,321.34 597.26,318.92 597.75,316.5" fill="url(#blueG)"/>
<polygon points="594.94,283.95 594.47,286.25 594.26,288.55 593.91,290.85 593.43,293.15 592.82,295.45 592.09,297.76 591.25,300.06 590.31,302.36 589.29,304.66 588.18,306.96 587.02,309.26 585.81,311.56 584.57,313.86 583.31,316.16 582.05,318.46 580.81,320.76 579.6,323.06 578.44,325.36 577.33,327.66 576.31,329.96 575.37,332.26 574.53,334.56 573.8,336.86 573.19,339.16 572.71,341.46 572.36,343.76 572.15,346.06 571.68,348.36 571.68,354.51 572.15,352.21 572.36,349.91 572.71,347.61 573.19,345.31 573.8,343.01 574.53,340.71 575.37,338.41 576.31,336.11 577.33,333.81 578.44,331.51 579.6,329.21 580.81,326.9 582.05,324.6 583.31,322.3 584.57,320 585.81,317.7 587.02,315.4 588.18,313.1 589.29,310.8 590.31,308.5 591.25,306.2 592.09,303.9 592.82,301.6 593.43,299.3 593.91,297 594.26,294.7 594.47,292.4 594.94,290.1" fill="#46bde8" opacity="0.45"/>
<polygon points="593.54,301.51 593.08,303.81 592.89,306.11 592.59,308.41 592.16,310.71 591.63,313.01 590.99,315.32 590.26,317.62 589.44,319.92 588.54,322.22 587.57,324.52 586.56,326.82 585.5,329.12 584.41,331.42 583.31,333.72 582.21,336.02 581.12,338.32 580.06,340.62 579.05,342.92 578.08,345.22 577.18,347.52 576.36,349.82 575.63,352.12 574.99,354.42 574.46,356.72 574.03,359.02 573.73,361.32 573.54,363.62 573.08,365.92 573.08,369.43 573.54,367.13 573.73,364.83 574.03,362.53 574.46,360.23 574.99,357.93 575.63,355.63 576.36,353.33 577.18,351.03 578.08,348.73 579.05,346.43 580.06,344.13 581.12,341.83 582.21,339.53 583.31,337.23 584.41,334.93 585.5,332.63 586.56,330.33 587.57,328.03 588.54,325.73 589.44,323.43 590.26,321.13 590.99,318.83 591.63,316.53 592.16,314.23 592.59,311.93 592.89,309.63 593.08,307.33 593.54,305.02" fill="#3ab5e2" opacity="0.35"/>
</g>
<rect x="568.1" y="537.57" width="29" height="7.63" fill="#2a9fd2"/>
</g>
<polygon points="583.9,140 600.4,149.7 600.4,162.5 598.9,165 598.9,187.2 569.1,187.2 569.1,165 566.9,162.5 566.9,148.8" fill="url(#tipG)"/>
<polygon points="583.9,140 600.4,149.7 600.4,162.5 598.9,165 598.9,186.9 590.6,186.9 590.6,150.17" fill="#0b6f99" opacity="0.12"/>
<polygon points="583.23,140.6 590.6,149.49 589.93,154.97 576.95,161.81 572.93,156.34" fill="#5cc8ee" opacity="0.5"/>
<line x1="584.2" y1="140.6" x2="600" y2="150.2" stroke="#9a9592" stroke-width="2.01" stroke-linecap="round"/>
<clipPath id="body6"><polygon points="691.7,83.8 725.9,83.8 725.9,308 726,332 726,533.1 725.4,534.3 709.4,545.3 708.8,545.3 692.8,534.3 692.2,533.1 692.2,332 691.7,308"/></clipPath>
<clipPath id="fl6"><polygon points="688.7,85.8 728.9,85.8 728.9,303 725.9,303 724.19,292 722.48,288 708.8,300 691.7,316 688.7,316"/></clipPath>
<g clip-path="url(#body6)">
<polygon points="691.7,82.8 725.9,82.8 725.9,308 726,332 726,546.3 692.2,546.3 692.2,332 691.7,308" fill="url(#steel)"/>
<g clip-path="url(#fl6)">
<polygon points="726.27,57.95 725.76,61.08 725.44,64.2 724.92,67.33 724.19,70.45 723.26,73.58 722.16,76.7 720.89,79.83 719.47,82.95 717.91,86.08 716.25,89.2 714.48,92.32 712.65,95.45 710.77,98.58 708.87,101.7 706.97,104.83 705.09,107.95 703.26,111.08 701.49,114.2 699.83,117.33 698.27,120.45 696.85,123.58 695.58,126.7 694.48,129.82 693.55,132.95 692.82,136.07 692.3,139.2 691.98,142.32 691.47,145.45 691.47,155.32 691.98,152.19 692.3,149.07 692.82,145.94 693.55,142.82 694.48,139.69 695.58,136.57 696.85,133.44 698.27,130.32 699.83,127.2 701.49,124.07 703.26,120.95 705.09,117.82 706.97,114.7 708.87,111.57 710.77,108.45 712.65,105.32 714.48,102.19 716.25,99.07 717.91,95.95 719.47,92.82 720.89,89.7 722.16,86.57 723.26,83.45 724.19,80.32 724.92,77.2 725.44,74.07 725.76,70.95 726.27,67.82" fill="#ffffff" opacity="0.22"/>
<polygon points="726.27,148.75 725.76,151.88 725.44,155 724.92,158.12 724.19,161.25 723.26,164.38 722.16,167.5 720.89,170.62 719.47,173.75 717.91,176.88 716.25,180 714.48,183.12 712.65,186.25 710.77,189.38 708.87,192.5 706.97,195.62 705.09,198.75 703.26,201.88 701.49,205 699.83,208.12 698.27,211.25 696.85,214.38 695.58,217.5 694.48,220.62 693.55,223.75 692.82,226.88 692.3,230 691.98,233.12 691.47,236.25 691.47,247.28 691.98,244.15 692.3,241.03 692.82,237.9 693.55,234.78 694.48,231.65 695.58,228.53 696.85,225.4 698.27,222.28 699.83,219.15 701.49,216.03 703.26,212.9 705.09,209.78 706.97,206.65 708.87,203.53 710.77,200.4 712.65,197.28 714.48,194.15 716.25,191.03 717.91,187.9 719.47,184.78 720.89,181.65 722.16,178.53 723.26,175.4 724.19,172.28 724.92,169.15 725.44,166.03 725.76,162.9 726.27,159.78" fill="#ffffff" opacity="0.22"/>
<polygon points="726.27,241.75 725.76,244.88 725.44,248 724.92,251.12 724.19,254.25 723.26,257.38 722.16,260.5 720.89,263.62 719.47,266.75 717.91,269.88 716.25,273 714.48,276.12 712.65,279.25 710.77,282.38 708.87,285.5 706.97,288.62 705.09,291.75 703.26,294.88 701.49,298 699.83,301.12 698.27,304.25 696.85,307.38 695.58,310.5 694.48,313.62 693.55,316.75 692.82,319.88 692.3,323 691.98,326.12 691.47,329.25 691.47,340.27 691.98,337.15 692.3,334.02 692.82,330.9 693.55,327.77 694.48,324.65 695.58,321.52 696.85,318.4 698.27,315.27 699.83,312.15 701.49,309.02 703.26,305.9 705.09,302.77 706.97,299.65 708.87,296.52 710.77,293.4 712.65,290.27 714.48,287.15 716.25,284.02 717.91,280.9 719.47,277.77 720.89,274.65 722.16,271.52 723.26,268.4 724.19,265.27 724.92,262.15 725.44,259.02 725.76,255.9 726.27,252.77" fill="#ffffff" opacity="0.22"/>
<polygon points="726.27,-6.75 725.76,-3.62 725.44,-0.5 724.92,2.62 724.19,5.75 723.26,8.88 722.16,12 720.89,15.12 719.47,18.25 717.91,21.38 716.25,24.5 714.48,27.62 712.65,30.75 710.77,33.88 708.87,37 706.97,40.12 705.09,43.25 703.26,46.38 701.49,49.5 699.83,52.62 698.27,55.75 696.85,58.88 695.58,62 694.48,65.12 693.55,68.25 692.82,71.38 692.3,74.5 691.98,77.62 691.47,80.75 691.47,145.45 691.98,142.32 692.3,139.2 692.82,136.07 693.55,132.95 694.48,129.82 695.58,126.7 696.85,123.58 698.27,120.45 699.83,117.33 701.49,114.2 703.26,111.08 705.09,107.95 706.97,104.83 708.87,101.7 710.77,98.58 712.65,95.45 714.48,92.32 716.25,89.2 717.91,86.08 719.47,82.95 720.89,79.83 722.16,76.7 723.26,73.58 724.19,70.45 724.92,67.33 725.44,64.2 725.76,61.08 726.27,57.95" fill="url(#blueG)"/>
<polygon points="726.27,86.15 725.76,89.28 725.44,92.4 724.92,95.53 724.19,98.65 723.26,101.78 722.16,104.9 720.89,108.03 719.47,111.15 717.91,114.28 716.25,117.4 714.48,120.53 712.65,123.65 710.77,126.78 708.87,129.9 706.97,133.03 705.09,136.15 703.26,139.28 701.49,142.4 699.83,145.53 698.27,148.65 696.85,151.78 695.58,154.9 694.48,158.03 693.55,161.15 692.82,164.28 692.3,167.4 691.98,170.53 691.47,173.65 691.47,236.25 691.98,233.12 692.3,230 692.82,226.88 693.55,223.75 694.48,220.62 695.58,217.5 696.85,214.38 698.27,211.25 699.83,208.12 701.49,205 703.26,201.88 705.09,198.75 706.97,195.62 708.87,192.5 710.77,189.38 712.65,186.25 714.48,183.12 716.25,180 717.91,176.88 719.47,173.75 720.89,170.62 722.16,167.5 723.26,164.38 724.19,161.25 724.92,158.12 725.44,155 725.76,151.88 726.27,148.75" fill="url(#blueG)"/>
<polygon points="722.87,102.11 722.38,105.08 722.13,108.05 721.71,111.02 721.12,113.98 720.39,116.95 719.5,119.92 718.49,122.89 717.35,125.86 716.11,128.83 714.77,131.8 713.36,134.77 711.9,137.73 710.39,140.7 708.87,143.67 707.35,146.64 705.84,149.61 704.38,152.58 702.97,155.55 701.63,158.52 700.39,161.48 699.25,164.45 698.24,167.42 697.35,170.39 696.62,173.36 696.03,176.33 695.61,179.3 695.36,182.27 694.87,185.23 694.87,194 695.36,191.03 695.61,188.06 696.03,185.09 696.62,182.12 697.35,179.15 698.24,176.19 699.25,173.22 700.39,170.25 701.63,167.28 702.97,164.31 704.38,161.34 705.84,158.37 707.35,155.4 708.87,152.44 710.39,149.47 711.9,146.5 713.36,143.53 714.77,140.56 716.11,137.59 717.35,134.62 718.49,131.65 719.5,128.69 720.39,125.72 721.12,122.75 721.71,119.78 722.13,116.81 722.38,113.84 722.87,110.87" fill="#46bde8" opacity="0.45"/>
<polygon points="721.17,127.15 720.7,130.12 720.47,133.09 720.1,136.06 719.59,139.02 718.95,141.99 718.17,144.96 717.28,147.93 716.29,150.9 715.2,153.87 714.03,156.84 712.8,159.81 711.52,162.77 710.2,165.74 708.87,168.71 707.54,171.68 706.22,174.65 704.94,177.62 703.71,180.59 702.54,183.56 701.45,186.52 700.46,189.49 699.57,192.46 698.79,195.43 698.15,198.4 697.64,201.37 697.27,204.34 697.04,207.31 696.57,210.27 696.57,215.28 697.04,212.31 697.27,209.35 697.64,206.38 698.15,203.41 698.79,200.44 699.57,197.47 700.46,194.5 701.45,191.53 702.54,188.56 703.71,185.59 704.94,182.63 706.22,179.66 707.54,176.69 708.87,173.72 710.2,170.75 711.52,167.78 712.8,164.81 714.03,161.84 715.2,158.88 716.29,155.91 717.28,152.94 718.17,149.97 718.95,147 719.59,144.03 720.1,141.06 720.47,138.09 720.7,135.13 721.17,132.16" fill="#3ab5e2" opacity="0.35"/>
<polygon points="726.27,180.25 725.76,183.38 725.44,186.5 724.92,189.62 724.19,192.75 723.26,195.88 722.16,199 720.89,202.12 719.47,205.25 717.91,208.38 716.25,211.5 714.48,214.62 712.65,217.75 710.77,220.88 708.87,224 706.97,227.12 705.09,230.25 703.26,233.38 701.49,236.5 699.83,239.62 698.27,242.75 696.85,245.88 695.58,249 694.48,252.12 693.55,255.25 692.82,258.38 692.3,261.5 691.98,264.62 691.47,267.75 691.47,329.25 691.98,326.12 692.3,323 692.82,319.88 693.55,316.75 694.48,313.62 695.58,310.5 696.85,307.38 698.27,304.25 699.83,301.12 701.49,298 703.26,294.88 705.09,291.75 706.97,288.62 708.87,285.5 710.77,282.38 712.65,279.25 714.48,276.12 716.25,273 717.91,269.88 719.47,266.75 720.89,263.62 722.16,260.5 723.26,257.38 724.19,254.25 724.92,251.12 725.44,248 725.76,244.88 726.27,241.75" fill="url(#blueG)"/>
<polygon points="722.87,195.97 722.38,198.94 722.13,201.91 721.71,204.87 721.12,207.84 720.39,210.81 719.5,213.78 718.49,216.75 717.35,219.72 716.11,222.69 714.77,225.66 713.36,228.62 711.9,231.59 710.39,234.56 708.87,237.53 707.35,240.5 705.84,243.47 704.38,246.44 702.97,249.41 701.63,252.37 700.39,255.34 699.25,258.31 698.24,261.28 697.35,264.25 696.62,267.22 696.03,270.19 695.61,273.16 695.36,276.12 694.87,279.09 694.87,287.7 695.36,284.73 695.61,281.76 696.03,278.8 696.62,275.83 697.35,272.86 698.24,269.89 699.25,266.92 700.39,263.95 701.63,260.98 702.97,258.01 704.38,255.05 705.84,252.08 707.35,249.11 708.87,246.14 710.39,243.17 711.9,240.2 713.36,237.23 714.77,234.26 716.11,231.3 717.35,228.33 718.49,225.36 719.5,222.39 720.39,219.42 721.12,216.45 721.71,213.48 722.13,210.51 722.38,207.55 722.87,204.58" fill="#46bde8" opacity="0.45"/>
<polygon points="721.17,220.57 720.7,223.54 720.47,226.5 720.1,229.47 719.59,232.44 718.95,235.41 718.17,238.38 717.28,241.35 716.29,244.32 715.2,247.29 714.03,250.25 712.8,253.22 711.52,256.19 710.2,259.16 708.87,262.13 707.54,265.1 706.22,268.07 704.94,271.04 703.71,274 702.54,276.97 701.45,279.94 700.46,282.91 699.57,285.88 698.79,288.85 698.15,291.82 697.64,294.79 697.27,297.75 697.04,300.72 696.57,303.69 696.57,308.61 697.04,305.64 697.27,302.68 697.64,299.71 698.15,296.74 698.79,293.77 699.57,290.8 700.46,287.83 701.45,284.86 702.54,281.89 703.71,278.93 704.94,275.96 706.22,272.99 707.54,270.02 708.87,267.05 710.2,264.08 711.52,261.11 712.8,258.14 714.03,255.18 715.2,252.21 716.29,249.24 717.28,246.27 718.17,243.3 718.95,240.33 719.59,237.36 720.1,234.39 720.47,231.43 720.7,228.46 721.17,225.49" fill="#3ab5e2" opacity="0.35"/>
</g>
<polygon points="724.2,296 725.9,294.5 725.9,303.5 724.8,302.5" fill="url(#blueG)"/>
<rect x="692.2" y="538.48" width="33.8" height="7.82" fill="#2a9fd2"/>
</g>
<polygon points="708.6,39 729.8,50.8 729.8,67 725.9,69.5 725.9,86.1 691.7,86.1 691.7,69.5 688.2,67 688.2,50.8" fill="url(#tipG)"/>
<polygon points="708.6,39 729.8,50.8 729.8,67 725.9,69.5 725.9,85.8 716.92,85.8 716.92,52.42" fill="#0b6f99" opacity="0.12"/>
<polygon points="707.77,39.6 716.92,51.61 716.09,58.09 700.68,66.19 695.69,59.71" fill="#5cc8ee" opacity="0.5"/>
<line x1="708.9" y1="39.6" x2="729.4" y2="51.3" stroke="#9a9592" stroke-width="2.5" stroke-linecap="round"/>
<line x1="45" y1="298.5" x2="45" y2="418.3" stroke="#5a4d42" stroke-width="1.4"/>
<polygon points="45,291.8 48,299.5 42,299.5" fill="#1f1812"/>
<polygon points="45,425 48,417.3 42,417.3" fill="#1f1812"/>
<text transform="translate(63.4 358.4) rotate(-90)" text-anchor="middle" dominant-baseline="central" font-family='"Liberation Sans", sans-serif' font-size="12.0" fill="#2b2521">40 mm</text>
<line x1="79.5" y1="298.5" x2="79.5" y2="535.8" stroke="#3d3127" stroke-width="1.15"/>
<polygon points="79.5,291.8 82.5,299.5 76.5,299.5" fill="#1f1812"/>
<polygon points="79.5,542.5 82.5,534.8 76.5,534.8" fill="#1f1812"/>
<text transform="translate(96.2 420.6) rotate(-90)" text-anchor="middle" dominant-baseline="central" font-family='"Liberation Sans", sans-serif' font-size="12.0" fill="#2b2521">75 mm</text>
<line x1="150.9" y1="266.3" x2="150.9" y2="419" stroke="#5a4d42" stroke-width="1.4"/>
<polygon points="150.9,259.6 153.9,267.3 147.9,267.3" fill="#1f1812"/>
<polygon points="150.9,425.7 153.9,418 147.9,418" fill="#1f1812"/>
<text transform="translate(169.3 341.9) rotate(-90)" text-anchor="middle" dominant-baseline="central" font-family='"Liberation Sans", sans-serif' font-size="12.0" fill="#2b2521">50 mm</text>
<line x1="185.5" y1="266.3" x2="185.5" y2="535.8" stroke="#3d3127" stroke-width="1.15"/>
<polygon points="185.5,259.6 188.5,267.3 182.5,267.3" fill="#1f1812"/>
<polygon points="185.5,542.5 188.5,534.8 182.5,534.8" fill="#1f1812"/>
<text transform="translate(201.3 405.2) rotate(-90)" text-anchor="middle" dominant-baseline="central" font-family='"Liberation Sans", sans-serif' font-size="12.0" fill="#2b2521">85 mm</text>
<line x1="265.5" y1="214.7" x2="265.5" y2="400.8" stroke="#3d3127" stroke-width="1.15"/>
<polygon points="265.5,208 268.5,215.7 262.5,215.7" fill="#1f1812"/>
<polygon points="265.5,407.5 268.5,399.8 262.5,399.8" fill="#1f1812"/>
<text transform="translate(283.2 307.9) rotate(-90)" text-anchor="middle" dominant-baseline="central" font-family='"Liberation Sans", sans-serif' font-size="12.0" fill="#2b2521">60 mm</text>
<line x1="299.8" y1="214.7" x2="299.8" y2="535.8" stroke="#5a4d42" stroke-width="1.4"/>
<polygon points="299.8,208 302.8,215.7 296.8,215.7" fill="#1f1812"/>
<polygon points="299.8,542.5 302.8,534.8 296.8,534.8" fill="#1f1812"/>
<text transform="translate(316.3 374.8) rotate(-90)" text-anchor="middle" dominant-baseline="central" font-family='"Liberation Sans", sans-serif' font-size="12.0" fill="#2b2521">100 mm</text>
<line x1="372.3" y1="214.7" x2="372.3" y2="400.8" stroke="#3d3127" stroke-width="1.15"/>
<polygon points="372.3,208 375.3,215.7 369.3,215.7" fill="#1f1812"/>
<polygon points="372.3,407.5 375.3,399.8 369.3,399.8" fill="#1f1812"/>
<text transform="translate(389.5 307.9) rotate(-90)" text-anchor="middle" dominant-baseline="central" font-family='"Liberation Sans", sans-serif' font-size="12.0" fill="#2b2521">60 mm</text>
<line x1="406.5" y1="214.7" x2="406.5" y2="535.8" stroke="#3d3127" stroke-width="1.15"/>
<polygon points="406.5,208 409.5,215.7 403.5,215.7" fill="#1f1812"/>
<polygon points="406.5,542.5 409.5,534.8 403.5,534.8" fill="#1f1812"/>
<text transform="translate(422 374.8) rotate(-90)" text-anchor="middle" dominant-baseline="central" font-family='"Liberation Sans", sans-serif' font-size="12.0" fill="#2b2521">100 mm</text>
<line x1="495.6" y1="147.7" x2="495.6" y2="400.7" stroke="#3d3127" stroke-width="1.15"/>
<polygon points="495.6,141 498.6,148.7 492.6,148.7" fill="#1f1812"/>
<polygon points="495.6,407.4 498.6,399.7 492.6,399.7" fill="#1f1812"/>
<text transform="translate(513.6 274.8) rotate(-90)" text-anchor="middle" dominant-baseline="central" font-family='"Liberation Sans", sans-serif' font-size="12.0" fill="#2b2521">80 mm</text>
<line x1="530.3" y1="147.7" x2="530.3" y2="535.8" stroke="#3d3127" stroke-width="1.15"/>
<polygon points="530.3,141 533.3,148.7 527.3,148.7" fill="#1f1812"/>
<polygon points="530.3,542.5 533.3,534.8 527.3,534.8" fill="#1f1812"/>
<text transform="translate(546.8 341) rotate(-90)" text-anchor="middle" dominant-baseline="central" font-family='"Liberation Sans", sans-serif' font-size="12.0" fill="#2b2521">120 mm</text>
<line x1="620.4" y1="147.7" x2="620.4" y2="400.7" stroke="#3d3127" stroke-width="1.15"/>
<polygon points="620.4,141 623.4,148.7 617.4,148.7" fill="#1f1812"/>
<polygon points="620.4,407.4 623.4,399.7 617.4,399.7" fill="#1f1812"/>
<text transform="translate(637.8 274.8) rotate(-90)" text-anchor="middle" dominant-baseline="central" font-family='"Liberation Sans", sans-serif' font-size="12.0" fill="#2b2521">80 mm</text>
<line x1="654.5" y1="147.7" x2="654.5" y2="535.8" stroke="#3d3127" stroke-width="1.15"/>
<polygon points="654.5,141 657.5,148.7 651.5,148.7" fill="#1f1812"/>
<polygon points="654.5,542.5 657.5,534.8 651.5,534.8" fill="#1f1812"/>
<text transform="translate(670.9 341) rotate(-90)" text-anchor="middle" dominant-baseline="central" font-family='"Liberation Sans", sans-serif' font-size="12.0" fill="#2b2521">120 mm</text>
<line x1="745.6" y1="46.2" x2="745.6" y2="334.3" stroke="#343233" stroke-width="1.15"/>
<polygon points="745.6,39.5 748.6,47.2 742.6,47.2" fill="#1c1b1c"/>
<polygon points="745.6,341 748.6,333.3 742.6,333.3" fill="#1c1b1c"/>
<text transform="translate(764.4 189.6) rotate(-90)" text-anchor="middle" dominant-baseline="central" font-family='"Liberation Sans", sans-serif' font-size="12.0" fill="#2b2521">90 mm</text>
<line x1="780.35" y1="46.2" x2="780.35" y2="535.8" stroke="#343233" stroke-width="1.15"/>
<polygon points="780.35,39.5 783.35,47.2 777.35,47.2" fill="#1c1b1c"/>
<polygon points="780.35,542.5 783.35,534.8 777.35,534.8" fill="#1c1b1c"/>
<text transform="translate(796.4 290.9) rotate(-90)" text-anchor="middle" dominant-baseline="central" font-family='"Liberation Sans", sans-serif' font-size="12.0" fill="#2b2521">150 mm</text>
<text x="21.3" y="261" text-anchor="middle" font-family='"Liberation Sans", sans-serif' font-size="12.0" fill="#2b2521">4,0 mm</text>
<ellipse cx="21.4" cy="271" rx="3.2" ry="3.1" fill="none" stroke="#2b2521" stroke-width="1.1"/>
<line x1="17.5" y1="274.9" x2="25.2" y2="267" stroke="#2b2521" stroke-width="1.1"/>
<text x="118.5" y="228" text-anchor="middle" font-family='"Liberation Sans", sans-serif' font-size="12.0" fill="#2b2521">5,0 mm</text>
<ellipse cx="118.9" cy="238" rx="3.2" ry="3.1" fill="none" stroke="#2b2521" stroke-width="1.1"/>
<line x1="115" y1="241.9" x2="122.7" y2="234" stroke="#2b2521" stroke-width="1.1"/>
<text x="235.6" y="177.5" text-anchor="middle" font-family='"Liberation Sans", sans-serif' font-size="12.0" fill="#2b2521">6,0 mm</text>
<ellipse cx="235.8" cy="187.3" rx="3.2" ry="3.1" fill="none" stroke="#2b2521" stroke-width="1.1"/>
<line x1="231.9" y1="191.2" x2="239.6" y2="183.3" stroke="#2b2521" stroke-width="1.1"/>
<text x="342.5" y="177.5" text-anchor="middle" font-family='"Liberation Sans", sans-serif' font-size="12.0" fill="#2b2521">6,0 mm</text>
<ellipse cx="342.8" cy="187.3" rx="3.2" ry="3.1" fill="none" stroke="#2b2521" stroke-width="1.1"/>
<line x1="338.9" y1="191.2" x2="346.6" y2="183.3" stroke="#2b2521" stroke-width="1.1"/>
<text x="457.2" y="110.2" text-anchor="middle" font-family='"Liberation Sans", sans-serif' font-size="12.0" fill="#2b2521">8,0 mm</text>
<ellipse cx="457.6" cy="120" rx="3.2" ry="3.1" fill="none" stroke="#2b2521" stroke-width="1.1"/>
<line x1="453.7" y1="123.9" x2="461.4" y2="116" stroke="#2b2521" stroke-width="1.1"/>
<text x="585.9" y="110.2" text-anchor="middle" font-family='"Liberation Sans", sans-serif' font-size="12.0" fill="#2b2521">10,0 mm</text>
<ellipse cx="581.8" cy="120.3" rx="3.2" ry="3.1" fill="none" stroke="#2b2521" stroke-width="1.1"/>
<line x1="577.9" y1="124.2" x2="585.6" y2="116.3" stroke="#2b2521" stroke-width="1.1"/>
<text x="707.5" y="8.7" text-anchor="middle" font-family='"Liberation Sans", sans-serif' font-size="12.0" fill="#2b2521">12,0 mm</text>
<ellipse cx="707.3" cy="18.5" rx="3.2" ry="3.1" fill="none" stroke="#2b2521" stroke-width="1.1"/>
<line x1="703.4" y1="22.4" x2="711.1" y2="14.5" stroke="#2b2521" stroke-width="1.1"/>
</svg></body></html>
